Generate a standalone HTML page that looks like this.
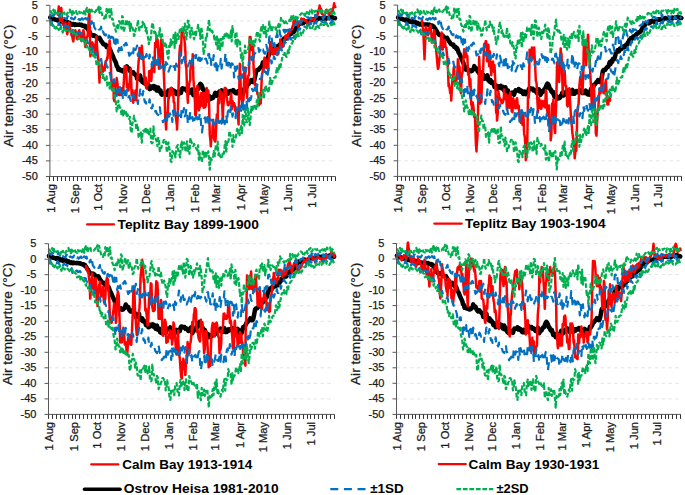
<!DOCTYPE html>
<html><head><meta charset="utf-8"><style>
html,body{margin:0;padding:0;background:#fff;overflow:hidden;width:685px;height:495px;}
svg{display:block;}
text{font-family:"Liberation Sans", sans-serif;}
.g{stroke:#e3e3e3;stroke-width:1;stroke-dasharray:3.4 3.4;fill:none;}
.ax{stroke:#595959;stroke-width:1;fill:none;}
.tk{stroke:#333;stroke-width:1;fill:none;}
.tl{font-size:11px;text-anchor:end;fill:#1a1a1a;stroke:#1a1a1a;stroke-width:0.25px;}
.ml{font-size:11.2px;text-anchor:end;fill:#1a1a1a;stroke:#1a1a1a;stroke-width:0.25px;}
.yt{font-size:13.65px;text-anchor:middle;fill:#1a1a1a;stroke:#1a1a1a;stroke-width:0.25px;}
.lg{font-size:13.4px;font-weight:bold;fill:#000;}
.s2{stroke:#00b050;stroke-width:2.2;fill:none;stroke-dasharray:4.7 1.8;stroke-linejoin:round;}
.s1{stroke:#0070c0;stroke-width:2.2;fill:none;stroke-dasharray:8 6;stroke-linejoin:round;}
.m{stroke:#000;stroke-width:4.5;fill:none;stroke-linejoin:round;stroke-linecap:round;}
.r{stroke:#ff0000;stroke-width:2.5;fill:none;stroke-linejoin:round;stroke-linecap:round;}
.rl{stroke:#ff0000;stroke-width:2.2;stroke-linecap:round;}
.bl{stroke:#000;stroke-width:3.6;stroke-linecap:round;}
.b1{stroke:#0070c0;stroke-width:2.2;stroke-dasharray:8 5.6;}
.b2{stroke:#00b050;stroke-width:2.2;stroke-dasharray:4.7 1.8;}
</style></head>
<body><svg width="685" height="495" viewBox="0 0 685 495">
<line x1="49.9" y1="5.3" x2="335.4" y2="5.3" class="g"/>
<line x1="49.9" y1="20.9" x2="335.4" y2="20.9" class="g"/>
<line x1="49.9" y1="36.4" x2="335.4" y2="36.4" class="g"/>
<line x1="49.9" y1="52" x2="335.4" y2="52" class="g"/>
<line x1="49.9" y1="67.6" x2="335.4" y2="67.6" class="g"/>
<line x1="49.9" y1="83.1" x2="335.4" y2="83.1" class="g"/>
<line x1="49.9" y1="98.7" x2="335.4" y2="98.7" class="g"/>
<line x1="49.9" y1="114.2" x2="335.4" y2="114.2" class="g"/>
<line x1="49.9" y1="129.8" x2="335.4" y2="129.8" class="g"/>
<line x1="49.9" y1="145.4" x2="335.4" y2="145.4" class="g"/>
<line x1="49.9" y1="160.9" x2="335.4" y2="160.9" class="g"/>
<polyline class="m" points="50.2,17.6 51,17.6 51.8,18.3 52.6,19.1 53.4,18.8 54.2,19 54.9,19.5 55.7,19.8 56.5,19.9 57.3,20.4 58.1,19.7 58.8,19.7 59.6,20.4 60.4,20.3 61.2,21.7 62,21.8 62.8,22 63.5,21.1 64.3,22.4 65.1,21.6 65.9,21.6 66.7,22 67.5,22 68.2,23 69,23.7 69.8,23 70.6,24.1 71.4,24.1 72.1,24.7 72.9,24 73.7,24.2 74.5,24.9 75.3,24.3 76.1,24.7 76.8,24.8 77.6,24.7 78.4,24.8 79.2,24.5 80,24.7 80.8,25.1 81.5,24.8 82.3,25.7 83.1,25.7 83.9,25.9 84.7,25.8 85.4,27.1 86.2,26.7 87,28.1 87.8,29.1 88.6,30.5 89.4,31.4 90.1,33 90.9,34.4 91.7,35.1 92.5,35.3 93.3,35.8 94.1,35.2 94.8,35.5 95.6,36.3 96.4,37 97.2,38 98,38.2 98.7,38.2 99.5,37.9 100.3,39.3 101.1,41 101.9,41.8 102.7,43.1 103.4,44.1 104.2,44.4 105,45 105.8,44.7 106.6,46.9 107.4,46.7 108.1,47 108.9,48.9 109.7,48.6 110.5,50.5 111.3,53 112,54 112.8,55.9 113.6,57.9 114.4,59.7 115.2,61.3 116,63 116.7,66.1 117.5,66.7 118.3,69.7 119.1,69 119.9,69.5 120.7,70.5 121.4,70.6 122.2,70.2 123,71.5 123.8,71.4 124.6,71.1 125.3,70.1 126.1,69.2 126.9,66.3 127.7,68.9 128.5,68.2 129.3,68.6 130,70.8 130.8,72.2 131.6,73.2 132.4,72.5 133.2,72.2 134,73.6 134.7,74.2 135.5,75.3 136.3,75.1 137.1,78.9 137.9,76.8 138.6,77.1 139.4,78.8 140.2,75.5 141,80.4 141.8,81 142.6,82 143.3,80.2 144.1,83.1 144.9,82.2 145.7,83.1 146.5,84.5 147.2,87.1 148,87.2 148.8,85.4 149.6,89.1 150.4,88.8 151.2,88 151.9,86.6 152.7,86.8 153.5,86.1 154.3,88.4 155.1,86.6 155.9,87.6 156.6,90.5 157.4,87.6 158.2,87.5 159,91.4 159.8,91.3 160.5,90.5 161.3,94.1 162.1,94.7 162.9,93.9 163.7,93.2 164.5,93.7 165.2,92.9 166,93.4 166.8,94.9 167.6,92.4 168.4,90.5 169.2,90.8 169.9,90.3 170.7,90.7 171.5,89.2 172.3,91.5 173.1,90.2 173.8,91.8 174.6,91.1 175.4,92.1 176.2,94 177,92.8 177.8,91.8 178.5,94.3 179.3,93.4 180.1,93.1 180.9,93.1 181.7,89.4 182.5,88.3 183.2,88.4 184,88.8 184.8,89.1 185.6,88.9 186.4,90.7 187.1,89.9 187.9,90.7 188.7,91.3 189.5,92.8 190.3,91.7 191.1,91.6 191.8,89.5 192.6,91.9 193.4,95.1 194.2,93.2 195,91.4 195.8,92.1 196.5,90.5 197.3,89.3 198.1,89.1 198.9,86.8 199.7,84.9 200.4,83.8 201.2,84.6 202,86.1 202.8,89.1 203.6,89.2 204.4,91.5 205.1,92.7 205.9,91.8 206.7,94.6 207.5,96.9 208.3,96.5 209.1,96.1 209.8,99.2 210.6,97.5 211.4,97.5 212.2,98.4 213,97.9 213.7,96.1 214.5,95.4 215.3,92.9 216.1,93.5 216.9,95.6 217.7,94.9 218.4,93.2 219.2,91.7 220,93 220.8,92.6 221.6,90.4 222.4,92.1 223.1,92.4 223.9,93.8 224.7,93 225.5,90 226.3,93.8 227,92.2 227.8,93.8 228.6,92.1 229.4,91.3 230.2,92.4 231,91.1 231.7,91 232.5,91.2 233.3,90 234.1,91.2 234.9,92.6 235.7,93.1 236.4,93.3 237.2,91.9 238,93.1 238.8,90.8 239.6,91.6 240.3,94.3 241.1,94.6 241.9,92.1 242.7,95 243.5,91.9 244.3,88.9 245,89.7 245.8,88.2 246.6,87 247.4,84.8 248.2,84.5 249,83.4 249.7,82.3 250.5,82 251.3,80.1 252.1,81.7 252.9,82.1 253.6,82 254.4,80.1 255.2,76.1 256,71.4 256.8,70.3 257.6,70.2 258.3,70 259.1,68.9 259.9,68 260.7,67.2 261.5,67 262.3,64.8 263,62.2 263.8,64.3 264.6,61.2 265.4,62 266.2,59 266.9,59 267.7,59.2 268.5,55.8 269.3,52.7 270.1,52.6 270.9,50.3 271.6,50.4 272.4,51.4 273.2,48.7 274,48.8 274.8,49.1 275.6,46.9 276.3,47.1 277.1,47.6 277.9,46.2 278.7,47 279.5,45 280.2,45.1 281,42.9 281.8,42.9 282.6,40.2 283.4,40.1 284.2,38.5 284.9,39.1 285.7,38.3 286.5,36.9 287.3,38.1 288.1,36.9 288.9,35.1 289.6,34.8 290.4,33.8 291.2,33.7 292,32.5 292.8,32.4 293.5,32.1 294.3,31.3 295.1,29.6 295.9,28.3 296.7,27 297.5,26.4 298.2,25.4 299,24.1 299.8,23.2 300.6,23.2 301.4,23.1 302.2,23.5 302.9,21.8 303.7,22.7 304.5,21.4 305.3,21.2 306.1,21.6 306.8,21.9 307.6,21.5 308.4,21.9 309.2,21.1 310,20.9 310.8,20.4 311.5,19.9 312.3,19.4 313.1,20 313.9,19.4 314.7,20 315.5,19.9 316.2,19.6 317,19.6 317.8,18.6 318.6,18.4 319.4,18.1 320.1,18.6 320.9,18.4 321.7,18.7 322.5,18.9 323.3,18.1 324.1,18.1 324.8,18.5 325.6,17.8 326.4,18.6 327.2,17.9 328,17.9 328.8,17.8 329.5,17.9 330.3,17.1 331.1,17.1 331.9,16.9 332.7,17.5 333.4,18.2 334.2,17.9 335,18.2"/>
<polyline class="r" points="57.7,14.6 58.1,13.3 58.8,6.6 59,8.1 59.6,14.2 60,20.9 60.4,14.9 61.2,8.8 61.3,8.1 62,17.6 62.5,23.4 62.8,24.5 63.5,24.8 64.2,26.2 64.3,28.2 65.1,25.9 65.5,22.4 65.9,26.7 66.7,29 67.2,34.2 67.5,32.6 68.2,28.9 69,23 69.2,22.4 69.8,27.2 70.6,30.6 71.2,32.4 71.4,35 72.1,35.7 72.9,39.9 73.3,41.4 73.7,37.5 74.5,33.6 75.3,32.1 75.3,30.2 76.1,33 76.8,38.4 77.3,39.2 77.6,37.4 78.4,33.3 79.2,31.2 79.3,30.2 80,35.2 80.8,37.3 81.3,40.5 81.5,41 82.3,35.3 83.1,32.6 83.4,30.2 83.9,33.2 84.7,41.5 85.4,46.4 85.4,46.9 86.2,39.8 87,36.7 87.4,36.4 87.8,34.1 88.6,20.3 89.4,9.7 89.4,12.1 90.1,44 90.4,56.3 90.9,53.3 91.7,43.9 92.4,42.3 92.5,43.2 93.3,45 94.1,46 94.5,50.4 94.8,52.9 95.6,44 96.4,37.4 96.5,36.4 97.2,48.8 98,57.3 98.5,60.4 98.7,65.3 99.5,82.5 99.5,79.6 100.3,73.1 101.1,69.3 101.5,64.4 101.9,65.3 102.7,72 103.4,67.7 104.2,69.2 104.6,70.4 105,65.4 105.8,61.1 106.6,60.4 107.4,57 107.6,58.2 108.1,47.8 108.9,48.8 109.6,40.5 109.7,40.5 110.5,59.6 111.3,76.9 111.6,84.7 112,87.4 112.8,89.2 113.6,82.2 113.7,98.7 114.4,101.2 115.2,85.8 116,84.3 116.7,80.6 116.7,78.1 117.5,83.8 118.3,94.8 119.1,94.9 119.7,92.5 119.9,92 120.7,94.9 121.4,94.7 122.2,88.1 122.4,90.6 123,93.1 123.8,82.7 124.6,66.3 124.8,68.8 125.3,66.3 126.1,66.5 126.9,87 127.7,84.2 128.5,90.6 128.5,88.1 129.3,87.5 130,77.1 130.8,68.8 130.9,71.3 131.6,94.9 132.4,89.9 133.2,102.7 133.3,100.2 134,93.8 134.7,99.8 135.5,90.4 136.3,100.3 137,85.9 137.1,83.1 137.9,71.9 138.6,61.9 139.4,54.2 139.4,48 140.2,55 141,48.7 141.8,53.2 141.8,45.8 142.6,56.6 143.3,58 144.1,73.4 144.2,73.5 144.9,84.4 145.7,77.6 146.5,88.4 146.7,85.9 147.2,86 148,83 148.8,82.4 149.1,71.3 149.6,79.1 150.4,70.7 151.2,80.9 151.5,78.4 151.9,66.6 152.7,65 153.5,62.6 154.3,72.1 155.1,43.1 155.2,44.5 155.9,47 156.6,37 157.4,40.2 157.6,39.5 158.2,50.5 159,68.8 159.8,66.9 160,66.3 160.5,50.4 161.3,39.5 162.1,48.1 162.4,42 162.9,62.1 163.7,70.8 164.5,89.3 165.2,116.5 166,127.2 166.1,129.5 166.8,113 167.6,117.1 168.4,97.7 168.5,100.2 169.2,94.6 169.9,88.8 170.7,95.3 170.9,88.1 171.5,87.9 172.3,91.2 173.1,91.7 173.8,102.5 174.5,102.7 174.6,110.6 175.4,113.6 176.2,119.5 177,126 177,129.5 177.8,113.6 178.5,88.9 179.3,59.5 179.4,54.2 180.1,45.5 180.9,55.6 181.7,30.1 182.5,35.4 183,29.9 183.2,35.6 184,36.1 184.8,42.8 185.5,54.2 185.6,63.5 186.4,68.7 187.1,90.2 187.9,102.7 187.9,97.9 188.7,88.5 189.5,82.3 190.3,80.1 190.3,71.3 191.1,62.7 191.8,61.9 192.6,58.4 192.7,54.2 193.4,79 194.2,89.7 195,102.7 195.2,114.9 195.8,115.5 196.5,105.5 197.3,91.4 197.4,85.9 198.1,95.5 198.9,110.2 199.7,106.2 199.8,107.7 200.4,97.8 201.2,93.1 202,105.4 202.3,95.6 202.8,93.1 203.6,107.7 204.4,93.1 205.1,107.4 205.9,105.2 205.9,101.9 206.7,88.1 207.5,93.9 208.3,102.2 208.3,90.6 209.1,105.5 209.8,134.9 210.6,142.2 210.8,146.3 211.4,137.9 212.2,137.5 213,120.6 213.2,119.8 213.7,134.2 214.5,140.5 215.3,141.6 215.6,139.1 216.1,128.2 216.9,114.4 217.7,121.8 218,102.7 218.4,98.3 219.2,103.2 220,90.6 220.5,93.1 220.8,97.2 221.6,92.7 222.4,109.9 222.9,122 223.1,107.8 223.9,100.3 224.7,88.1 225.3,90.6 225.5,88.1 226.3,95.5 227,98.6 227.8,105.2 228.6,105.2 228.9,102.7 229.4,102.3 230.2,103.3 231,93.6 231.4,95.6 231.7,109.4 232.5,101 233.3,106.2 234.1,103.3 234.9,106 235,109.9 235.7,111.4 236.4,109.1 237.2,114.2 238,116 238.6,124.5 238.8,110.1 239.6,73 239.8,63.8 240.3,73.8 241.1,99.1 241.9,95.9 242.3,107.7 242.7,101.3 243.5,99.9 244.3,72.6 244.7,68.8 245,67.5 245.8,86.9 246.6,79.9 247.1,97.7 247.4,84.9 248.2,76 249,74.8 249.5,51.7 249.7,37 250.5,37 250.8,39.5 251.3,50.1 252.1,43 252.9,44.8 253.2,51.7 253.6,68.1 254.4,78.4 254.4,82.6 255.2,85.5 256,84.4 256.8,84.9 256.8,90.6 257.6,94.4 258.3,94.7 259.1,105.2 259.2,102.7 259.9,97 260.7,103.4 261,98.4 261.5,82.9 262,76.3 262.3,73.6 263,68.9 263.8,68.7 264,60.1 264.6,57.6 265.4,58.7 266,64.1 266.2,67.8 266.9,61.6 267.7,64.1 268.1,70.4 268.5,62.4 269.3,50.1 270.1,46.8 270.1,42 270.9,42.4 271.6,47.9 272.1,54.2 272.4,48.9 273.2,54.4 274,52.5 274.8,48.8 275.2,50.1 275.6,54 276.3,52.5 277.1,47.9 277.9,51.7 278.2,54.2 278.7,49.9 279.5,48.9 280.2,42 280.2,39.5 281,42.7 281.8,47.2 282.2,46.1 282.6,46.9 283.4,46.1 284.2,39.7 284.9,40.3 285.3,36.1 285.7,38.6 286.5,35.2 287.3,37.6 288.1,34.7 288.3,33.9 288.9,30.9 289.6,32.8 290.4,30.8 291.2,30 291.3,29.9 292,28.4 292.8,25.7 293.3,25.8 293.5,21.3 294.3,22.7 295.1,22.2 295.4,19.9 295.9,22.9 296.7,22.4 297.5,23.1 298.2,26.4 298.4,24 299,23.5 299.8,21.5 300.6,22.7 301.4,18.5 301.4,19.9 302.2,20 302.9,19.3 303.4,19 303.7,18.8 304.5,20.7 305.3,20.1 306.1,20.7 306.5,21.8 306.8,22.1 307.6,25.2 308.4,22.6 308.5,24.9 309.2,23.6 310,22.9 310.8,20.1 311.5,19 311.5,19.1 312.3,18.8 313.1,19.4 313.9,20.9 314.5,19.9 314.7,18.7 315.5,15.9 316.2,16.9 317,14.8 317.6,14.9 317.8,12.3 318.6,10.4 319.4,7.4 319.6,5.6 320.1,8.1 320.9,8.9 321.6,11.8 321.7,13.4 322.5,14.5 323.3,14.8 323.6,15.9 324.1,17.4 324.8,14.3 325.6,11.5 326.4,9.7 326.7,10.9 327.2,11.8 328,12.2 328.8,14.3 329.5,13 329.7,13.7 330.3,13.2 331.1,12.4 331.9,11.4 332.7,10.9 332.7,9.7 333.4,7.1 334.2,3.3 334.3,4.7 335,6.9 335.4,6.9"/>
<polyline class="s1" points="50.2,14.1 51,15.7 51.8,15.8 52.6,16.4 53.4,14.7 54.2,15.2 54.9,13.8 55.7,15.4 56.5,16.7 57.3,16.2 58.1,16.6 58.8,16.9 59.6,14.2 60.4,14.9 61.2,17.4 62,14.5 62.8,16.8 63.5,18.8 64.3,17.9 65.1,18.3 65.9,18.6 66.7,19.3 67.5,16.8 68.2,16.5 69,19.5 69.8,16.8 70.6,17.2 71.4,18.7 72.1,18.3 72.9,18.7 73.7,19.3 74.5,18.9 75.3,17.2 76.1,20.5 76.8,18.6 77.6,18.5 78.4,19.3 79.2,19 80,20.2 80.8,19.6 81.5,18.6 82.3,18.3 83.1,19.6 83.9,15.5 84.7,18.7 85.4,18 86.2,18.7 87,19.6 87.8,18.2 88.6,21.5 89.4,19.4 90.1,20.1 90.9,24.1 91.7,21.4 92.5,25.4 93.3,21.6 94.1,26.9 94.8,28 95.6,29.4 96.4,27.8 97.2,26.4 98,27.9 98.7,29.4 99.5,29.5 100.3,29.5 101.1,26.7 101.9,33.6 102.7,31.2 103.4,32.4 104.2,34.5 105,35.1 105.8,35.4 106.6,32.5 107.4,35.8 108.1,37.7 108.9,35.5 109.7,36.8 110.5,38.2 111.3,36.7 112,40.7 112.8,37.2 113.6,39 114.4,43.2 115.2,47.3 116,39.3 116.7,45.5 117.5,39.6 118.3,51.7 119.1,47.8 119.9,53.4 120.7,50.6 121.4,47.1 122.2,51.3 123,46.9 123.8,45.2 124.6,45.5 125.3,43.7 126.1,42.8 126.9,44.8 127.7,48.2 128.5,51.7 129.3,55.7 130,54.9 130.8,54.2 131.6,49 132.4,51.6 133.2,53.3 134,45.1 134.7,49.9 135.5,49.9 136.3,48.1 137.1,45.6 137.9,55.8 138.6,52.6 139.4,49.6 140.2,54.2 141,58.6 141.8,59.2 142.6,52.6 143.3,59.2 144.1,53.9 144.9,52.8 145.7,57.2 146.5,54 147.2,57.6 148,58.5 148.8,60.9 149.6,54.5 150.4,60.9 151.2,63 151.9,66.2 152.7,55.8 153.5,60 154.3,63.4 155.1,65.3 155.9,67.9 156.6,60.4 157.4,59.9 158.2,66.5 159,57.9 159.8,60.6 160.5,68.3 161.3,67.5 162.1,67.3 162.9,64.9 163.7,65.6 164.5,70.9 165.2,59.6 166,65.1 166.8,63.3 167.6,65.1 168.4,71.7 169.2,69.7 169.9,67.5 170.7,65.9 171.5,67.6 172.3,67.8 173.1,64.3 173.8,67 174.6,66.1 175.4,71.7 176.2,63.5 177,66.6 177.8,63.7 178.5,60.8 179.3,58.8 180.1,52.5 180.9,58.1 181.7,63.3 182.5,57.2 183.2,60.1 184,57.1 184.8,61.7 185.6,61.7 186.4,60.6 187.1,61 187.9,66.3 188.7,63.5 189.5,62.7 190.3,59 191.1,64.6 191.8,64.2 192.6,59.6 193.4,58.4 194.2,53.2 195,56.1 195.8,58.2 196.5,53.4 197.3,53 198.1,60.5 198.9,57.6 199.7,63.7 200.4,58.2 201.2,60.2 202,58.6 202.8,61.2 203.6,61.4 204.4,61.7 205.1,58.8 205.9,58.7 206.7,60.9 207.5,63.5 208.3,54.3 209.1,53.9 209.8,61.3 210.6,57.9 211.4,65.9 212.2,66 213,61.2 213.7,55.2 214.5,65.6 215.3,66.6 216.1,59.4 216.9,74 217.7,65.5 218.4,66.6 219.2,69.4 220,67.6 220.8,58.8 221.6,68.6 222.4,62.4 223.1,60.7 223.9,61.3 224.7,62.6 225.5,53 226.3,60.2 227,69.2 227.8,66.4 228.6,62.6 229.4,63.2 230.2,70.2 231,64.8 231.7,63.4 232.5,63.7 233.3,65.9 234.1,77.4 234.9,66.7 235.7,74.4 236.4,68.4 237.2,66.2 238,74.8 238.8,79.4 239.6,72.5 240.3,76.9 241.1,77.5 241.9,78 242.7,65.4 243.5,71.4 244.3,73.7 245,69.7 245.8,71.9 246.6,66.1 247.4,67.2 248.2,68.6 249,61.4 249.7,65.1 250.5,59.2 251.3,56.6 252.1,62.1 252.9,62.6 253.6,58 254.4,52.7 255.2,53.3 256,50.7 256.8,50.2 257.6,48.5 258.3,47.1 259.1,51.8 259.9,50.7 260.7,48.9 261.5,51.9 262.3,49.8 263,49.5 263.8,52.2 264.6,53.6 265.4,53.6 266.2,44.9 266.9,47.2 267.7,51.1 268.5,47.3 269.3,36.9 270.1,36.4 270.9,39.8 271.6,37.4 272.4,45.4 273.2,42.4 274,40.9 274.8,47.1 275.6,42.6 276.3,36.5 277.1,33.8 277.9,36.8 278.7,34 279.5,30.4 280.2,34.7 281,36.6 281.8,33.6 282.6,34.1 283.4,29.9 284.2,31.5 284.9,32.7 285.7,26.3 286.5,31.5 287.3,29.8 288.1,29.8 288.9,29.7 289.6,30.2 290.4,28.4 291.2,28 292,29 292.8,26.3 293.5,25.8 294.3,25.4 295.1,24.5 295.9,24.9 296.7,21.7 297.5,20.8 298.2,24.5 299,21.6 299.8,22.2 300.6,23.7 301.4,20.7 302.2,21.4 302.9,20.6 303.7,20.4 304.5,18.1 305.3,17.6 306.1,18.1 306.8,17.1 307.6,17.7 308.4,17.4 309.2,18.6 310,18 310.8,18.7 311.5,17 312.3,15.8 313.1,15.6 313.9,14.3 314.7,13.1 315.5,17.7 316.2,15.6 317,16.4 317.8,16.3 318.6,17.1 319.4,15.3 320.1,15.5 320.9,16.1 321.7,16.2 322.5,17.1 323.3,19.3 324.1,15.9 324.8,17.4 325.6,17.9 326.4,16.3 327.2,17.3 328,19.1 328.8,16.2 329.5,19.6 330.3,18.4 331.1,18.1 331.9,16.7 332.7,16.5 333.4,17.2 334.2,18 335,17.2"/>
<polyline class="s1" points="50.2,19.6 51,21 51.8,22.9 52.6,25.7 53.4,23.7 54.2,23.2 54.9,23.8 55.7,23.2 56.5,24.3 57.3,24.3 58.1,25 58.8,22.8 59.6,24.4 60.4,25.5 61.2,26.6 62,25.5 62.8,23.9 63.5,25.4 64.3,27.2 65.1,25.3 65.9,25.7 66.7,26.4 67.5,26.8 68.2,26.7 69,28.1 69.8,28.7 70.6,31.3 71.4,29.6 72.1,31.5 72.9,29.9 73.7,34.5 74.5,31.8 75.3,31.9 76.1,33.6 76.8,32.8 77.6,32.3 78.4,32.3 79.2,33.6 80,33.5 80.8,32.7 81.5,33.1 82.3,35 83.1,35.5 83.9,36 84.7,35.7 85.4,39.3 86.2,40.8 87,40.1 87.8,43 88.6,43.6 89.4,44 90.1,44.7 90.9,48.6 91.7,46.9 92.5,52.5 93.3,49.5 94.1,54.2 94.8,54.9 95.6,52.6 96.4,55.8 97.2,57.4 98,57.5 98.7,56.7 99.5,58.9 100.3,60 101.1,58.9 101.9,63.8 102.7,64.4 103.4,65.6 104.2,62.2 105,62.6 105.8,61.9 106.6,65.7 107.4,67.6 108.1,67.4 108.9,73.4 109.7,72.9 110.5,75.6 111.3,81.9 112,82.2 112.8,84 113.6,79.5 114.4,79.3 115.2,88.5 116,89.7 116.7,98.2 117.5,89.3 118.3,89.4 119.1,93.3 119.9,87.1 120.7,97.1 121.4,93.2 122.2,92.9 123,98.9 123.8,91.5 124.6,90.7 125.3,99.1 126.1,97.8 126.9,89.7 127.7,92.5 128.5,97.3 129.3,95.8 130,98.4 130.8,100.9 131.6,98.5 132.4,100.2 133.2,94.6 134,95.8 134.7,98.6 135.5,97.7 136.3,97 137.1,98.5 137.9,103.9 138.6,94.2 139.4,95.8 140.2,89.5 141,95.4 141.8,94.1 142.6,95.3 143.3,91 144.1,98.6 144.9,102.3 145.7,101.6 146.5,104.9 147.2,102.8 148,104 148.8,104.1 149.6,99.3 150.4,109.1 151.2,107.8 151.9,108.4 152.7,104.7 153.5,112 154.3,111.7 155.1,111.4 155.9,110.8 156.6,113.3 157.4,114.3 158.2,115 159,109.8 159.8,107.2 160.5,113 161.3,115.3 162.1,115.9 162.9,122.2 163.7,120.4 164.5,120.6 165.2,118.6 166,119.4 166.8,123.1 167.6,113.4 168.4,110.3 169.2,116.6 169.9,113.4 170.7,113.9 171.5,112.5 172.3,121.8 173.1,110.6 173.8,117.9 174.6,110.2 175.4,113.2 176.2,113.9 177,112.8 177.8,109.1 178.5,116.4 179.3,115.3 180.1,116 180.9,120 181.7,107.5 182.5,110.2 183.2,112.4 184,108 184.8,116.3 185.6,114.7 186.4,109.1 187.1,112.3 187.9,124.2 188.7,123.8 189.5,119.1 190.3,111.3 191.1,117.8 191.8,118.3 192.6,117.2 193.4,124.3 194.2,120.9 195,118.2 195.8,118 196.5,116.8 197.3,119.4 198.1,114.9 198.9,119.1 199.7,114.2 200.4,113 201.2,125.9 202,132.4 202.8,126 203.6,122.3 204.4,118.6 205.1,117.4 205.9,123.9 206.7,124.2 207.5,117.1 208.3,126.3 209.1,118.3 209.8,123.2 210.6,119.5 211.4,120.1 212.2,120.6 213,121.3 213.7,128.7 214.5,123.7 215.3,123.6 216.1,120.7 216.9,115.8 217.7,120.7 218.4,122.5 219.2,122.9 220,121.5 220.8,117.6 221.6,123.6 222.4,116.4 223.1,119.6 223.9,120.9 224.7,124.1 225.5,117.2 226.3,114.6 227,123.3 227.8,112 228.6,110.3 229.4,114.9 230.2,113.4 231,105.9 231.7,108.8 232.5,116.6 233.3,113.3 234.1,113.2 234.9,111.9 235.7,118.2 236.4,106.3 237.2,111 238,107.6 238.8,108.2 239.6,104.1 240.3,108.6 241.1,110.9 241.9,106.3 242.7,103.2 243.5,109.6 244.3,103.3 245,107.5 245.8,110.4 246.6,101.9 247.4,108.6 248.2,98.8 249,101.4 249.7,95.3 250.5,100 251.3,97.1 252.1,88.9 252.9,91 253.6,90.1 254.4,90.3 255.2,85.3 256,90.6 256.8,88.1 257.6,82.9 258.3,83.8 259.1,82 259.9,78.9 260.7,78.8 261.5,78.5 262.3,71 263,72 263.8,69.6 264.6,71.9 265.4,71.7 266.2,73.5 266.9,69.5 267.7,74.7 268.5,69.8 269.3,64.9 270.1,60.7 270.9,60.4 271.6,63.4 272.4,58.2 273.2,60.8 274,56.5 274.8,59.2 275.6,56.8 276.3,53 277.1,55.2 277.9,50.9 278.7,54.8 279.5,54.8 280.2,49.6 281,47.2 281.8,50.5 282.6,46.9 283.4,48.1 284.2,44 284.9,41.2 285.7,43 286.5,43.9 287.3,44.8 288.1,40.3 288.9,38.3 289.6,37.5 290.4,37.4 291.2,39.6 292,34.6 292.8,37.5 293.5,37.6 294.3,35.7 295.1,38.9 295.9,35.2 296.7,34.2 297.5,31.9 298.2,29.1 299,28.4 299.8,29.7 300.6,27.5 301.4,26.6 302.2,26.7 302.9,28.3 303.7,28.8 304.5,26.5 305.3,26.8 306.1,27 306.8,28.3 307.6,23.7 308.4,27.4 309.2,25 310,22 310.8,24.1 311.5,23.3 312.3,24.4 313.1,21.3 313.9,24 314.7,22.3 315.5,22.4 316.2,23.5 317,21.1 317.8,23.3 318.6,22.2 319.4,21.4 320.1,22.1 320.9,21.4 321.7,21.1 322.5,22.3 323.3,22.5 324.1,22.4 324.8,22.5 325.6,21.7 326.4,23.3 327.2,22.8 328,23.2 328.8,23.7 329.5,21.6 330.3,23.6 331.1,22.3 331.9,20.4 332.7,23 333.4,21.5 334.2,22.8 335,21.2"/>
<polyline class="s2" points="50.2,10.3 51,11.8 51.8,13.1 52.6,13.5 53.4,9.7 54.2,11.8 54.9,9.4 55.7,14.6 56.5,13.6 57.3,13 58.1,13.8 58.8,12.8 59.6,13 60.4,14 61.2,16.2 62,15 62.8,11.6 63.5,13.2 64.3,12.5 65.1,15.3 65.9,14.6 66.7,15.2 67.5,12.8 68.2,12.6 69,11.5 69.8,9.6 70.6,13.5 71.4,11.6 72.1,14.8 72.9,11.2 73.7,13.2 74.5,12.8 75.3,12.9 76.1,11.1 76.8,13.6 77.6,14 78.4,14.4 79.2,11.7 80,13 80.8,12.6 81.5,12.2 82.3,11.5 83.1,13.7 83.9,11.6 84.7,9.6 85.4,14.5 86.2,9.5 87,7.8 87.8,12.1 88.6,9.5 89.4,12.7 90.1,9.2 90.9,10.6 91.7,9.7 92.5,12.7 93.3,12.7 94.1,11.9 94.8,12.2 95.6,11.5 96.4,10 97.2,11.5 98,8.7 98.7,6.8 99.5,12.8 100.3,7.5 101.1,10.8 101.9,13.8 102.7,17.3 103.4,17.7 104.2,18.7 105,15.5 105.8,17.8 106.6,8.8 107.4,12.9 108.1,8.3 108.9,8.2 109.7,17.3 110.5,11.9 111.3,9 112,19.5 112.8,19 113.6,24.9 114.4,25.8 115.2,29 116,31.8 116.7,26.9 117.5,25.1 118.3,28.2 119.1,21.2 119.9,22.7 120.7,23.7 121.4,28.7 122.2,16 123,17.5 123.8,32.3 124.6,28.2 125.3,26.3 126.1,20.9 126.9,19.8 127.7,26.2 128.5,23.6 129.3,21.8 130,31 130.8,23.7 131.6,28.6 132.4,27.6 133.2,29.9 134,35.8 134.7,35.2 135.5,29.9 136.3,27.8 137.1,27.3 137.9,20 138.6,26.3 139.4,30.5 140.2,27.2 141,26.9 141.8,27.1 142.6,21.8 143.3,25.1 144.1,23.7 144.9,26.5 145.7,31.1 146.5,27.8 147.2,36.2 148,36.9 148.8,44.2 149.6,39.5 150.4,39.8 151.2,34.3 151.9,25.7 152.7,22.8 153.5,27.7 154.3,33 155.1,30.5 155.9,34.3 156.6,38.5 157.4,35.8 158.2,35.9 159,36.8 159.8,28 160.5,37 161.3,38.1 162.1,34.4 162.9,41.9 163.7,45.4 164.5,45.9 165.2,42.2 166,45.1 166.8,48.8 167.6,55.8 168.4,58.6 169.2,45.6 169.9,48.2 170.7,39.3 171.5,45.1 172.3,41.8 173.1,40.4 173.8,33.4 174.6,48 175.4,32.7 176.2,42.8 177,37.3 177.8,34.2 178.5,39 179.3,33.1 180.1,27.7 180.9,28.5 181.7,30.9 182.5,27.4 183.2,28 184,35.4 184.8,23.6 185.6,28.9 186.4,39.4 187.1,32.4 187.9,20.6 188.7,21.2 189.5,27.8 190.3,37.3 191.1,32.1 191.8,27.9 192.6,32.5 193.4,37 194.2,39.4 195,32 195.8,35.2 196.5,31.6 197.3,30.2 198.1,24.9 198.9,30.8 199.7,30 200.4,39 201.2,27.4 202,31.3 202.8,39.7 203.6,54 204.4,50 205.1,48.3 205.9,36.8 206.7,37.8 207.5,30.4 208.3,24.8 209.1,19.8 209.8,30.3 210.6,29.9 211.4,33 212.2,30.8 213,33 213.7,33.5 214.5,40.8 215.3,37.8 216.1,44.4 216.9,35 217.7,48.9 218.4,37.7 219.2,39.1 220,49.8 220.8,38.8 221.6,39.1 222.4,47.4 223.1,36.9 223.9,38.2 224.7,34.3 225.5,38.1 226.3,34 227,32.2 227.8,35.6 228.6,37.9 229.4,35.4 230.2,37.6 231,30.5 231.7,41.4 232.5,26 233.3,33.9 234.1,34 234.9,34.2 235.7,45.1 236.4,31.5 237.2,46.5 238,39.9 238.8,41.7 239.6,39.7 240.3,48.4 241.1,57.9 241.9,53.2 242.7,65.1 243.5,55.6 244.3,55.5 245,45.6 245.8,52.9 246.6,52.3 247.4,51.2 248.2,48.8 249,44.9 249.7,37.8 250.5,44.5 251.3,39.4 252.1,45.9 252.9,41.6 253.6,40.8 254.4,46.4 255.2,42.1 256,37.6 256.8,33.2 257.6,31.3 258.3,35.3 259.1,38.9 259.9,41.5 260.7,30.6 261.5,27.1 262.3,30.5 263,25 263.8,33.3 264.6,33.5 265.4,26.8 266.2,37.1 266.9,31.2 267.7,31.1 268.5,29.8 269.3,21.5 270.1,28.7 270.9,26.8 271.6,31.7 272.4,27.8 273.2,27.1 274,28.3 274.8,28.7 275.6,27.4 276.3,30 277.1,33.2 277.9,26 278.7,23.9 279.5,27.1 280.2,25.2 281,17.9 281.8,20.2 282.6,20.4 283.4,21.7 284.2,22.9 284.9,24.3 285.7,21.4 286.5,22.9 287.3,23.3 288.1,22.1 288.9,22 289.6,19.5 290.4,22.6 291.2,15.4 292,21 292.8,19.1 293.5,15.9 294.3,18.7 295.1,17.8 295.9,16.8 296.7,20.1 297.5,17.3 298.2,17.7 299,16.4 299.8,15 300.6,14.6 301.4,13.3 302.2,13.4 302.9,14.1 303.7,15.6 304.5,13.8 305.3,16.2 306.1,14.5 306.8,12 307.6,12.6 308.4,15.2 309.2,13.5 310,10.7 310.8,10.6 311.5,9.6 312.3,13.4 313.1,12.6 313.9,11 314.7,12 315.5,10.9 316.2,11.1 317,10.9 317.8,11.6 318.6,10.6 319.4,10.4 320.1,11.5 320.9,13.7 321.7,10.2 322.5,11.5 323.3,11 324.1,11.1 324.8,13.7 325.6,10.7 326.4,12.5 327.2,13.1 328,9.1 328.8,10.9 329.5,10 330.3,9.5 331.1,9.1 331.9,14.4 332.7,13 333.4,10.8 334.2,12.6 335,14.7"/>
<polyline class="s2" points="50.2,21.3 51,25 51.8,23.6 52.6,24.7 53.4,25.7 54.2,26.5 54.9,29.8 55.7,28.4 56.5,27 57.3,30.2 58.1,29.2 58.8,30 59.6,28.5 60.4,30.6 61.2,27.1 62,30.3 62.8,32.5 63.5,28.3 64.3,29.7 65.1,30.4 65.9,30.3 66.7,31.6 67.5,31.5 68.2,30.5 69,30.6 69.8,31.1 70.6,32.5 71.4,33.7 72.1,33.3 72.9,31.6 73.7,31.4 74.5,34.5 75.3,35.5 76.1,33.8 76.8,35.2 77.6,35.8 78.4,39.2 79.2,38.3 80,38.7 80.8,37.9 81.5,41.1 82.3,37.3 83.1,39.8 83.9,40.8 84.7,44.4 85.4,43.3 86.2,41.6 87,47.5 87.8,45.8 88.6,46.4 89.4,50.2 90.1,48.9 90.9,53 91.7,51.4 92.5,54.2 93.3,56.2 94.1,53.6 94.8,57.4 95.6,57.4 96.4,64.2 97.2,64 98,61.7 98.7,62.9 99.5,67.1 100.3,67.4 101.1,74.4 101.9,73 102.7,77.9 103.4,74.9 104.2,78.3 105,80.2 105.8,79.8 106.6,76.3 107.4,86.1 108.1,86.3 108.9,82.6 109.7,88.5 110.5,82.5 111.3,88.6 112,90.1 112.8,90.8 113.6,88 114.4,95.3 115.2,99.2 116,102.6 116.7,111.4 117.5,109.5 118.3,100.5 119.1,104.7 119.9,107.7 120.7,108.4 121.4,114.2 122.2,110.3 123,115.4 123.8,109.5 124.6,114.7 125.3,113.6 126.1,112.2 126.9,117.2 127.7,114.5 128.5,117 129.3,119.2 130,117 130.8,131.1 131.6,132.8 132.4,123.4 133.2,121.3 134,115.8 134.7,120.9 135.5,120.9 136.3,129.7 137.1,124.6 137.9,127.4 138.6,137 139.4,137.7 140.2,134.6 141,132.5 141.8,142.7 142.6,132 143.3,130.6 144.1,131.6 144.9,129 145.7,127.6 146.5,133.8 147.2,128 148,131.4 148.8,135.4 149.6,132.2 150.4,128.5 151.2,142.4 151.9,143.3 152.7,142.7 153.5,126.4 154.3,136.3 155.1,136 155.9,139.8 156.6,140.8 157.4,146.1 158.2,137.8 159,139.4 159.8,151.2 160.5,148.6 161.3,147.9 162.1,144.6 162.9,143.3 163.7,140 164.5,140.1 165.2,142.4 166,141.7 166.8,152.5 167.6,149.5 168.4,142.4 169.2,147.5 169.9,150.6 170.7,161.2 171.5,162 172.3,151.1 173.1,152.2 173.8,153.6 174.6,152.5 175.4,157.3 176.2,148.1 177,146.2 177.8,145 178.5,153.1 179.3,154.5 180.1,157.4 180.9,145.7 181.7,141.6 182.5,149.5 183.2,143.3 184,142.4 184.8,144.7 185.6,152.1 186.4,144.9 187.1,141.4 187.9,151 188.7,148.4 189.5,153.9 190.3,138 191.1,140.9 191.8,143 192.6,144.5 193.4,146.2 194.2,144 195,146 195.8,147.7 196.5,149 197.3,150.1 198.1,145.4 198.9,159.8 199.7,153.2 200.4,157 201.2,158.4 202,162.2 202.8,149.8 203.6,157.2 204.4,156.7 205.1,151.5 205.9,157.8 206.7,153 207.5,154.4 208.3,151.3 209.1,159.4 209.8,169.7 210.6,157.8 211.4,160.3 212.2,158.9 213,158.4 213.7,151.2 214.5,157.2 215.3,149.7 216.1,144.7 216.9,150.6 217.7,141.6 218.4,155.1 219.2,152.2 220,156.1 220.8,156.9 221.6,158.7 222.4,155.2 223.1,151.7 223.9,153.7 224.7,145.2 225.5,141.1 226.3,152.6 227,140.7 227.8,142.2 228.6,141 229.4,131.2 230.2,134 231,136.3 231.7,136.4 232.5,146.9 233.3,135 234.1,142.1 234.9,137.9 235.7,137.7 236.4,133.7 237.2,128.8 238,132.8 238.8,130.4 239.6,135.2 240.3,130 241.1,126.2 241.9,133.1 242.7,115.1 243.5,124.5 244.3,125.4 245,111.7 245.8,109.6 246.6,122.2 247.4,121.8 248.2,108.8 249,116.9 249.7,125.2 250.5,118.7 251.3,106.8 252.1,111.5 252.9,109.1 253.6,104.7 254.4,104.7 255.2,106.9 256,110.5 256.8,100.3 257.6,106.5 258.3,101.5 259.1,93 259.9,97.5 260.7,98.1 261.5,96.3 262.3,91.8 263,89.9 263.8,98.3 264.6,92 265.4,85.5 266.2,87.8 266.9,91.6 267.7,89.5 268.5,92.7 269.3,86.9 270.1,77.8 270.9,82.5 271.6,84 272.4,81.8 273.2,79 274,77.7 274.8,77.4 275.6,77.4 276.3,71.5 277.1,67.1 277.9,71.7 278.7,70.1 279.5,63.6 280.2,69 281,63.9 281.8,60.2 282.6,55.8 283.4,54.6 284.2,54.9 284.9,51.8 285.7,55.7 286.5,56.9 287.3,56.1 288.1,48.7 288.9,52.9 289.6,47.1 290.4,45.6 291.2,43.9 292,43.6 292.8,41.8 293.5,38.4 294.3,38.2 295.1,38.5 295.9,33.6 296.7,36.9 297.5,33 298.2,34.9 299,36 299.8,34.2 300.6,32.4 301.4,35.2 302.2,33.6 302.9,33 303.7,30.4 304.5,29.2 305.3,28.7 306.1,28.6 306.8,27.4 307.6,24.6 308.4,24.3 309.2,25.6 310,28.3 310.8,26.3 311.5,27.5 312.3,28 313.1,25.8 313.9,26.9 314.7,29.3 315.5,29.1 316.2,25.6 317,26.9 317.8,25.7 318.6,27 319.4,27.9 320.1,25.8 320.9,23.6 321.7,24.9 322.5,26.4 323.3,24.9 324.1,25 324.8,24.2 325.6,23.2 326.4,22 327.2,24.8 328,26.2 328.8,25.9 329.5,25.9 330.3,26.4 331.1,25 331.9,23.8 332.7,24.6 333.4,21.9 334.2,23.5 335,24.8"/>
<line x1="49.9" y1="5.3" x2="49.9" y2="176.5" class="ax"/>
<line x1="45.9" y1="5.3" x2="49.9" y2="5.3" class="ax"/>
<text x="37.8" y="8.7" class="tl">5</text>
<line x1="45.9" y1="20.9" x2="49.9" y2="20.9" class="ax"/>
<text x="37.8" y="24.3" class="tl">0</text>
<line x1="45.9" y1="36.4" x2="49.9" y2="36.4" class="ax"/>
<text x="37.8" y="39.8" class="tl">-5</text>
<line x1="45.9" y1="52" x2="49.9" y2="52" class="ax"/>
<text x="37.8" y="55.4" class="tl">-10</text>
<line x1="45.9" y1="67.6" x2="49.9" y2="67.6" class="ax"/>
<text x="37.8" y="71" class="tl">-15</text>
<line x1="45.9" y1="83.1" x2="49.9" y2="83.1" class="ax"/>
<text x="37.8" y="86.5" class="tl">-20</text>
<line x1="45.9" y1="98.7" x2="49.9" y2="98.7" class="ax"/>
<text x="37.8" y="102.1" class="tl">-25</text>
<line x1="45.9" y1="114.2" x2="49.9" y2="114.2" class="ax"/>
<text x="37.8" y="117.6" class="tl">-30</text>
<line x1="45.9" y1="129.8" x2="49.9" y2="129.8" class="ax"/>
<text x="37.8" y="133.2" class="tl">-35</text>
<line x1="45.9" y1="145.4" x2="49.9" y2="145.4" class="ax"/>
<text x="37.8" y="148.8" class="tl">-40</text>
<line x1="45.9" y1="160.9" x2="49.9" y2="160.9" class="ax"/>
<text x="37.8" y="164.3" class="tl">-45</text>
<line x1="45.9" y1="176.5" x2="49.9" y2="176.5" class="ax"/>
<text x="37.8" y="179.9" class="tl">-50</text>
<line x1="49.9" y1="176.5" x2="335.4" y2="176.5" class="ax"/>
<path d="M49.5 176.5v4.5M53.5 176.5v4.5M57.5 176.5v4.5M61.5 176.5v4.5M65.5 176.5v4.5M69.5 176.5v4.5M73.5 176.5v4.5M77.5 176.5v4.5M81.5 176.5v4.5M85.5 176.5v4.5M88.5 176.5v4.5M92.5 176.5v4.5M96.5 176.5v4.5M100.5 176.5v4.5M104.5 176.5v4.5M108.5 176.5v4.5M112.5 176.5v4.5M116.5 176.5v4.5M120.5 176.5v4.5M124.5 176.5v4.5M128.5 176.5v4.5M131.5 176.5v4.5M135.5 176.5v4.5M139.5 176.5v4.5M143.5 176.5v4.5M147.5 176.5v4.5M151.5 176.5v4.5M155.5 176.5v4.5M159.5 176.5v4.5M163.5 176.5v4.5M167.5 176.5v4.5M171.5 176.5v4.5M175.5 176.5v4.5M178.5 176.5v4.5M182.5 176.5v4.5M186.5 176.5v4.5M190.5 176.5v4.5M194.5 176.5v4.5M198.5 176.5v4.5M202.5 176.5v4.5M206.5 176.5v4.5M210.5 176.5v4.5M214.5 176.5v4.5M218.5 176.5v4.5M221.5 176.5v4.5M225.5 176.5v4.5M229.5 176.5v4.5M233.5 176.5v4.5M237.5 176.5v4.5M241.5 176.5v4.5M245.5 176.5v4.5M249.5 176.5v4.5M253.5 176.5v4.5M257.5 176.5v4.5M261.5 176.5v4.5M264.5 176.5v4.5M268.5 176.5v4.5M272.5 176.5v4.5M276.5 176.5v4.5M280.5 176.5v4.5M284.5 176.5v4.5M288.5 176.5v4.5M292.5 176.5v4.5M296.5 176.5v4.5M300.5 176.5v4.5M304.5 176.5v4.5M308.5 176.5v4.5M311.5 176.5v4.5M315.5 176.5v4.5M319.5 176.5v4.5M323.5 176.5v4.5M327.5 176.5v4.5M331.5 176.5v4.5M335.5 176.5v4.5" class="tk"/>
<text transform="translate(54.5,184) rotate(-90)" class="ml">1 Aug</text>
<text transform="translate(78.8,184) rotate(-90)" class="ml">1 Sep</text>
<text transform="translate(102.3,184) rotate(-90)" class="ml">1 Oct</text>
<text transform="translate(126.5,184) rotate(-90)" class="ml">1 Nov</text>
<text transform="translate(150,184) rotate(-90)" class="ml">1 Dec</text>
<text transform="translate(174.2,184) rotate(-90)" class="ml">1 Jan</text>
<text transform="translate(198.5,184) rotate(-90)" class="ml">1 Feb</text>
<text transform="translate(220.4,184) rotate(-90)" class="ml">1 Mar</text>
<text transform="translate(244.7,184) rotate(-90)" class="ml">1 Apr</text>
<text transform="translate(268.1,184) rotate(-90)" class="ml">1 May</text>
<text transform="translate(292.4,184) rotate(-90)" class="ml">1 Jun</text>
<text transform="translate(315.8,184) rotate(-90)" class="ml">1 Jul</text>
<text transform="translate(12.9,85.9) rotate(-90)" class="yt">Air tempearture (°C)</text>
<line x1="87.1" y1="224.3" x2="114" y2="224.3" class="rl"/>
<text x="117.5" y="228.6" class="lg" textLength="141.4" lengthAdjust="spacingAndGlyphs">Teplitz Bay 1899-1900</text>
<line x1="397.6" y1="5.1" x2="681.8" y2="5.1" class="g"/>
<line x1="397.6" y1="20.7" x2="681.8" y2="20.7" class="g"/>
<line x1="397.6" y1="36.2" x2="681.8" y2="36.2" class="g"/>
<line x1="397.6" y1="51.8" x2="681.8" y2="51.8" class="g"/>
<line x1="397.6" y1="67.4" x2="681.8" y2="67.4" class="g"/>
<line x1="397.6" y1="83" x2="681.8" y2="83" class="g"/>
<line x1="397.6" y1="98.5" x2="681.8" y2="98.5" class="g"/>
<line x1="397.6" y1="114.1" x2="681.8" y2="114.1" class="g"/>
<line x1="397.6" y1="129.7" x2="681.8" y2="129.7" class="g"/>
<line x1="397.6" y1="145.3" x2="681.8" y2="145.3" class="g"/>
<line x1="397.6" y1="160.8" x2="681.8" y2="160.8" class="g"/>
<polyline class="m" points="398,17.4 398.8,17.4 399.5,18.1 400.3,18.9 401.1,18.6 401.9,18.8 402.7,19.3 403.4,19.6 404.2,19.7 405,20.3 405.8,19.5 406.6,19.5 407.3,20.2 408.1,20.1 408.9,21.5 409.7,21.6 410.4,21.8 411.2,20.9 412,22.2 412.8,21.4 413.6,21.4 414.3,21.9 415.1,21.8 415.9,22.8 416.7,23.5 417.5,22.8 418.2,23.9 419,24 419.8,24.5 420.6,23.8 421.3,24 422.1,24.7 422.9,24.1 423.7,24.5 424.5,24.6 425.2,24.5 426,24.6 426.8,24.4 427.6,24.5 428.4,24.9 429.1,24.6 429.9,25.5 430.7,25.5 431.5,25.7 432.2,25.6 433,26.9 433.8,26.5 434.6,27.9 435.4,28.9 436.1,30.4 436.9,31.3 437.7,32.8 438.5,34.2 439.3,34.9 440,35.1 440.8,35.6 441.6,35 442.4,35.3 443.1,36.1 443.9,36.9 444.7,37.8 445.5,38 446.3,38 447,37.7 447.8,39.2 448.6,40.8 449.4,41.6 450.2,42.9 450.9,44 451.7,44.3 452.5,44.8 453.3,44.5 454.1,46.7 454.8,46.5 455.6,46.8 456.4,48.8 457.2,48.4 457.9,50.3 458.7,52.8 459.5,53.9 460.3,55.8 461.1,57.7 461.8,59.6 462.6,61.2 463.4,62.8 464.2,65.9 465,66.6 465.7,69.6 466.5,68.8 467.3,69.3 468.1,70.4 468.8,70.5 469.6,70 470.4,71.3 471.2,71.2 472,70.9 472.7,70 473.5,69.1 474.3,66.1 475.1,68.7 475.9,68.1 476.6,68.5 477.4,70.7 478.2,72 479,73.1 479.7,72.4 480.5,72 481.3,73.5 482.1,74 482.9,75.2 483.6,75 484.4,78.7 485.2,76.6 486,76.9 486.8,78.6 487.5,75.4 488.3,80.2 489.1,80.9 489.9,81.8 490.6,80.1 491.4,83 492.2,82 493,83 493.8,84.3 494.5,87 495.3,87.1 496.1,85.3 496.9,89 497.7,88.7 498.4,87.8 499.2,86.4 500,86.7 500.8,86 501.5,88.2 502.3,86.5 503.1,87.4 503.9,90.3 504.7,87.4 505.4,87.3 506.2,91.3 507,91.1 507.8,90.3 508.6,93.9 509.3,94.6 510.1,93.8 510.9,93.1 511.7,93.5 512.4,92.7 513.2,93.3 514,94.7 514.8,92.3 515.6,90.4 516.3,90.6 517.1,90.2 517.9,90.6 518.7,89.1 519.5,91.3 520.2,90 521,91.7 521.8,90.9 522.6,92 523.3,93.9 524.1,92.7 524.9,91.6 525.7,94.2 526.5,93.3 527.2,92.9 528,92.9 528.8,89.3 529.6,88.1 530.4,88.3 531.1,88.7 531.9,88.9 532.7,88.8 533.5,90.5 534.2,89.8 535,90.5 535.8,91.1 536.6,92.7 537.4,91.6 538.1,91.4 538.9,89.3 539.7,91.8 540.5,95 541.3,93 542,91.3 542.8,92 543.6,90.4 544.4,89.2 545.2,89 545.9,86.6 546.7,84.8 547.5,83.6 548.3,84.5 549,86 549.8,88.9 550.6,89.1 551.4,91.4 552.2,92.5 552.9,91.7 553.7,94.5 554.5,96.8 555.3,96.4 556.1,95.9 556.8,99 557.6,97.3 558.4,97.3 559.2,98.2 559.9,97.8 560.7,95.9 561.5,95.3 562.3,92.7 563.1,93.4 563.8,95.4 564.6,94.7 565.4,93.1 566.2,91.6 567,92.8 567.7,92.4 568.5,90.2 569.3,92 570.1,92.2 570.8,93.6 571.6,92.8 572.4,89.9 573.2,93.7 574,92 574.7,93.6 575.5,92 576.3,91.1 577.1,92.2 577.9,90.9 578.6,90.8 579.4,91.1 580.2,89.8 581,91.1 581.7,92.5 582.5,93 583.3,93.1 584.1,91.8 584.9,92.9 585.6,90.6 586.4,91.5 587.2,94.1 588,94.5 588.8,92 589.5,94.8 590.3,91.8 591.1,88.7 591.9,89.5 592.6,88 593.4,86.8 594.2,84.6 595,84.3 595.8,83.2 596.5,82.1 597.3,81.8 598.1,80 598.9,81.5 599.7,82 600.4,81.8 601.2,80 602,76 602.8,71.3 603.5,70.2 604.3,70 605.1,69.9 605.9,68.7 606.7,67.8 607.4,67 608.2,66.8 609,64.7 609.8,62 610.6,64.1 611.3,61.1 612.1,61.8 612.9,58.8 613.7,58.9 614.4,59 615.2,55.7 616,52.5 616.8,52.4 617.6,50.2 618.3,50.2 619.1,51.2 619.9,48.5 620.7,48.7 621.5,48.9 622.2,46.7 623,46.9 623.8,47.4 624.6,46.1 625.3,46.8 626.1,44.8 626.9,44.9 627.7,42.7 628.5,42.7 629.2,40 630,39.9 630.8,38.3 631.6,39 632.4,38.1 633.1,36.7 633.9,37.9 634.7,36.7 635.5,35 636.3,34.6 637,33.6 637.8,33.5 638.6,32.3 639.4,32.2 640.1,31.9 640.9,31.1 641.7,29.4 642.5,28.1 643.3,26.8 644,26.2 644.8,25.2 645.6,23.9 646.4,23 647.2,23 647.9,22.9 648.7,23.3 649.5,21.6 650.3,22.5 651,21.2 651.8,21 652.6,21.4 653.4,21.7 654.2,21.3 654.9,21.7 655.7,20.9 656.5,20.7 657.3,20.2 658.1,19.7 658.8,19.2 659.6,19.8 660.4,19.2 661.2,19.8 661.9,19.7 662.7,19.5 663.5,19.4 664.3,18.4 665.1,18.2 665.8,17.9 666.6,18.4 667.4,18.3 668.2,18.6 669,18.7 669.7,17.9 670.5,17.9 671.3,18.3 672.1,17.6 672.8,18.4 673.6,17.7 674.4,17.7 675.2,17.6 676,17.7 676.7,16.9 677.5,16.9 678.3,16.8 679.1,17.3 679.9,18 680.6,17.7 681.4,18"/>
<polyline class="r" points="422.1,20 422.1,22.1 422.9,27.9 423.3,30.3 423.7,40.4 424.5,58.3 424.5,59.3 425.2,41.3 425.8,27.8 426,26.7 426.8,33.3 427.6,33.4 428.2,35 428.4,31.6 429.1,28.5 429.9,27.1 430.6,25.3 430.7,25.6 431.5,36.5 431.8,42.5 432.2,41.8 433,39.3 433.8,33.3 434.2,30.3 434.6,32.2 435.4,43.3 435.5,44.7 436.1,49.2 436.9,58.1 437.7,67.2 437.9,68.9 438.5,67.7 439.1,61.8 439.3,60.4 440,53.3 440.8,41.7 441.5,35 441.6,32.5 442.4,46.5 442.7,49.6 443.1,42.7 443.9,46.8 444.7,40 445.2,42.5 445.5,47.2 446.3,47.4 447,55.4 447.6,59.3 447.8,64.7 448.6,86.1 448.8,83.6 449.4,86.6 450.2,93.1 450.9,90.9 451.2,100.4 451.7,92.3 452.5,78.6 453.3,76.4 453.6,68.9 454.1,66.5 454.8,83.6 455.6,83.6 456.1,81.1 456.4,80.1 457.2,76.4 457.9,59.3 458.5,61.8 458.7,70.2 459.5,66.4 460.3,84.5 460.9,93.2 461.1,89.9 461.8,73.4 462.1,73.9 462.6,72.2 463.4,59.2 464.2,49.3 464.5,49.6 465,57.3 465.7,50.7 466.5,55.3 467,56.8 467.3,55.7 468.1,74.8 468.8,72.2 469.4,81.1 469.6,86.2 470.4,79.2 471.2,104.5 471.8,105.1 472,109.5 472.7,102.6 473.5,107.5 474.2,117.2 474.3,115.2 475.1,119.1 475.9,143.2 476.5,151.5 476.6,147.5 477.4,136.6 477.9,122.2 478.2,102.8 479,67.7 479.1,56.8 479.7,68.5 480.3,103.5 480.5,99.5 481.3,102 482.1,76 482.8,78.3 482.9,75.3 483.6,57.3 484.2,44 484.4,46.5 485.2,46.5 485.7,41.2 486,41.3 486.8,45.3 487.1,61.2 487.5,59.2 488.3,44.7 488.5,47.1 489.1,65.9 489.9,51.6 490.6,66.8 491.3,75.2 491.4,68.2 492.2,62 492.7,64 493,61.5 493.8,72 494.5,65.2 495.3,82.6 495.5,86.7 496.1,111.8 496.9,114.3 497,120.6 497.7,114 498.4,92.3 498.4,91.6 499.2,96.3 500,99.3 500.8,99.7 501.2,100.7 501.5,103.2 502.3,103.2 503.1,101.6 503.9,96.4 504,89.5 504.7,99 505.4,93.6 506.2,95.8 506.9,109.4 507,106.5 507.8,100.8 508.6,95.9 509.3,107.7 509.7,95.1 510.1,92.6 510.9,97.9 511.7,111.5 512.4,108.5 512.5,112.2 513.2,98.2 514,107.6 514.8,100.9 515.3,100.7 515.6,108.3 516.3,100.4 517.1,98.2 517.9,108.2 518.2,106.3 518.7,105.5 519.5,117.5 520.2,117.5 521,115 521,123 521.8,117.1 522.6,125.1 523.3,112.9 523.8,123.5 524.1,133.4 524.9,137.4 525.7,154.8 525.8,160.2 526.5,154.9 527.2,145.2 527.5,129.1 528,95.3 528.8,97.5 529.5,58.4 529.6,49.8 530.4,54.8 531.1,59.9 531.9,47.5 532.3,49.9 532.7,55.6 533.5,58.5 534.2,47.5 535,65.3 535.1,64 535.8,80.5 536.6,83.2 537.4,100.6 538,112.2 538.1,103.4 538.9,98.2 539.7,104.7 540.5,108.1 540.8,100.7 541.3,108.8 542,101 542.8,103.1 543.6,101.4 543.6,106.3 544.4,100.7 545.2,107.6 545.9,90.2 546.4,92.3 546.7,103.8 547.5,112.9 548.3,116 549,105.6 549.3,123.5 549.8,128 550.6,131.6 550.7,140.3 551.4,134.1 552.1,103.5 552.2,104.2 552.9,106 553.4,99.5 553.7,106.5 554.5,129.3 555.1,133.1 555.3,123.5 556.1,105.7 556.8,77.3 557.1,62.4 557.6,64.4 558.4,72.5 559,79.5 559.2,82 559.9,61.5 560.7,48.4 560.7,51.7 561.5,54.1 562.3,78.4 562.7,93.6 563.1,84.6 563.8,81.6 564.6,82.5 564.7,71.1 565.4,85.3 566.2,86.2 567,98.2 567,104.8 567.7,106.4 568.5,98.7 569.2,90.8 569.3,88.3 570.1,102.7 570.8,113.5 571.2,119.1 571.6,122.7 572.4,133.1 573.2,138.9 573.2,138.7 574,143.9 574.7,158.3 574.9,155.8 575.5,150.8 576.3,150.8 576.9,133.1 577.1,113.6 577.9,109.1 578.3,104.8 578.6,104.3 579.4,85.9 580.2,77.3 580.5,76.7 581,81.4 581.7,82.7 582.5,90.8 582.5,93.2 583.3,72.6 583.9,42.8 584.1,49.3 584.9,41.1 585.6,45 586.2,65.2 586.4,62 587.2,47.8 588,34.7 588.2,37.2 588.8,54.2 589.5,52 589.6,54 590.3,74.5 591.1,88.7 591.8,104.8 591.9,107.3 592.6,93.2 593.4,92.3 593.8,85.1 594.2,93 595,109.5 595.8,128.8 595.8,133.1 596.5,135.6 597.3,116.8 598.1,108.2 598.1,110.7 598.9,98.7 599.7,88.3 600.3,90.8 600.4,93.2 601.2,90.3 602,74.2 602.3,76.7 602.8,87.8 603.5,93.2 604.3,90.8 604.3,93.2 605.1,85 605.9,79.9 606,82.3 606.7,94.3 607.4,104.5 608,102 608.2,104.5 609,98.2 609.8,98.2 610,100.7"/>
<polyline class="s1" points="398,13.9 398.8,15.5 399.5,15.6 400.3,16.2 401.1,14.5 401.9,15 402.7,13.6 403.4,15.2 404.2,16.5 405,16 405.8,16.4 406.6,16.7 407.3,14 408.1,14.7 408.9,17.2 409.7,14.3 410.4,16.6 411.2,18.7 412,17.7 412.8,18.1 413.6,18.4 414.3,19.1 415.1,16.6 415.9,16.3 416.7,19.3 417.5,16.7 418.2,17 419,18.5 419.8,18.1 420.6,18.6 421.3,19.1 422.1,18.7 422.9,17 423.7,20.3 424.5,18.4 425.2,18.3 426,19.2 426.8,18.8 427.6,20 428.4,19.4 429.1,18.4 429.9,18.1 430.7,19.4 431.5,15.3 432.2,18.5 433,17.8 433.8,18.5 434.6,19.4 435.4,18 436.1,21.3 436.9,19.2 437.7,19.9 438.5,24 439.3,21.3 440,25.2 440.8,21.4 441.6,26.7 442.4,27.9 443.1,29.2 443.9,27.6 444.7,26.2 445.5,27.7 446.3,29.2 447,29.4 447.8,29.4 448.6,26.5 449.4,33.4 450.2,31 450.9,32.2 451.7,34.4 452.5,34.9 453.3,35.2 454.1,32.3 454.8,35.6 455.6,37.5 456.4,35.3 457.2,36.6 457.9,38.1 458.7,36.5 459.5,40.5 460.3,37 461.1,38.8 461.8,43 462.6,47.2 463.4,39.1 464.2,45.4 465,39.5 465.7,51.6 466.5,47.6 467.3,53.3 468.1,50.4 468.8,46.9 469.6,51.1 470.4,46.7 471.2,45 472,45.4 472.7,43.5 473.5,42.6 474.3,44.6 475.1,48 475.9,51.5 476.6,55.5 477.4,54.7 478.2,54 479,48.8 479.7,51.4 480.5,53.1 481.3,44.9 482.1,49.7 482.9,49.7 483.6,48 484.4,45.4 485.2,55.6 486,52.5 486.8,49.5 487.5,54 488.3,58.5 489.1,59 489.9,52.5 490.6,59 491.4,53.7 492.2,52.6 493,57 493.8,53.9 494.5,57.5 495.3,58.3 496.1,60.7 496.9,54.3 497.7,60.7 498.4,62.9 499.2,66.1 500,55.6 500.8,59.8 501.5,63.2 502.3,65.1 503.1,67.7 503.9,60.2 504.7,59.8 505.4,66.4 506.2,57.7 507,60.5 507.8,68.1 508.6,67.3 509.3,67.1 510.1,64.7 510.9,65.4 511.7,70.7 512.4,59.4 513.2,64.9 514,63.1 514.8,64.9 515.6,71.5 516.3,69.6 517.1,67.3 517.9,65.7 518.7,67.5 519.5,67.6 520.2,64.1 521,66.8 521.8,66 522.6,71.6 523.3,63.3 524.1,66.5 524.9,63.5 525.7,60.6 526.5,58.7 527.2,52.3 528,57.9 528.8,63.2 529.6,57 530.4,60 531.1,56.9 531.9,61.5 532.7,61.6 533.5,60.5 534.2,60.9 535,66.2 535.8,63.4 536.6,62.5 537.4,58.9 538.1,64.4 538.9,64 539.7,59.4 540.5,58.3 541.3,53 542,55.9 542.8,58 543.6,53.2 544.4,52.9 545.2,60.3 545.9,57.4 546.7,63.5 547.5,58 548.3,60 549,58.4 549.8,61 550.6,61.3 551.4,61.5 552.2,58.6 552.9,58.5 553.7,60.8 554.5,63.3 555.3,54.1 556.1,53.7 556.8,61.1 557.6,57.7 558.4,65.7 559.2,65.9 559.9,61.1 560.7,55 561.5,65.5 562.3,66.4 563.1,59.3 563.8,73.9 564.6,65.3 565.4,66.4 566.2,69.2 567,67.5 567.7,58.6 568.5,68.4 569.3,62.2 570.1,60.5 570.8,61.1 571.6,62.5 572.4,52.9 573.2,60 574,69 574.7,66.3 575.5,62.5 576.3,63.1 577.1,70 577.9,64.6 578.6,63.3 579.4,63.6 580.2,65.8 581,77.3 581.7,66.5 582.5,74.2 583.3,68.2 584.1,66 584.9,74.7 585.6,79.2 586.4,72.3 587.2,76.7 588,77.3 588.8,77.8 589.5,65.3 590.3,71.2 591.1,73.6 591.9,69.5 592.6,71.7 593.4,65.9 594.2,67 595,68.5 595.8,61.2 596.5,64.9 597.3,59.1 598.1,56.4 598.9,61.9 599.7,62.5 600.4,57.8 601.2,52.5 602,53.2 602.8,50.6 603.5,50.1 604.3,48.3 605.1,46.9 605.9,51.6 606.7,50.6 607.4,48.7 608.2,51.7 609,49.6 609.8,49.3 610.6,52 611.3,53.4 612.1,53.4 612.9,44.7 613.7,47 614.4,50.9 615.2,47.1 616,36.7 616.8,36.2 617.6,39.6 618.3,37.2 619.1,45.2 619.9,42.2 620.7,40.7 621.5,46.9 622.2,42.5 623,36.3 623.8,33.6 624.6,36.6 625.3,33.8 626.1,30.2 626.9,34.5 627.7,36.4 628.5,33.4 629.2,33.9 630,29.7 630.8,31.3 631.6,32.5 632.4,26.1 633.1,31.3 633.9,29.7 634.7,29.6 635.5,29.5 636.3,30 637,28.2 637.8,27.8 638.6,28.8 639.4,26.1 640.1,25.6 640.9,25.2 641.7,24.3 642.5,24.7 643.3,21.5 644,20.6 644.8,24.3 645.6,21.4 646.4,22 647.2,23.6 647.9,20.5 648.7,21.2 649.5,20.4 650.3,20.2 651,17.9 651.8,17.4 652.6,17.9 653.4,16.9 654.2,17.5 654.9,17.2 655.7,18.5 656.5,17.8 657.3,18.5 658.1,16.8 658.8,15.6 659.6,15.4 660.4,14.1 661.2,12.9 661.9,17.5 662.7,15.4 663.5,16.2 664.3,16.1 665.1,16.9 665.8,15.1 666.6,15.3 667.4,15.9 668.2,16 669,16.9 669.7,19.1 670.5,15.7 671.3,17.2 672.1,17.7 672.8,16.1 673.6,17.1 674.4,18.9 675.2,16 676,19.4 676.7,18.2 677.5,17.9 678.3,16.5 679.1,16.3 679.9,17.1 680.6,17.8 681.4,17"/>
<polyline class="s1" points="398,19.4 398.8,20.8 399.5,22.7 400.3,25.5 401.1,23.5 401.9,23 402.7,23.6 403.4,23 404.2,24.1 405,24.1 405.8,24.8 406.6,22.6 407.3,24.3 408.1,25.3 408.9,26.4 409.7,25.3 410.4,23.7 411.2,25.2 412,27 412.8,25.1 413.6,25.5 414.3,26.2 415.1,26.6 415.9,26.5 416.7,27.9 417.5,28.5 418.2,31.1 419,29.4 419.8,31.3 420.6,29.7 421.3,34.4 422.1,31.6 422.9,31.7 423.7,33.4 424.5,32.6 425.2,32.1 426,32.1 426.8,33.4 427.6,33.3 428.4,32.6 429.1,32.9 429.9,34.8 430.7,35.4 431.5,35.8 432.2,35.6 433,39.1 433.8,40.6 434.6,39.9 435.4,42.8 436.1,43.4 436.9,43.8 437.7,44.5 438.5,48.4 439.3,46.7 440,52.3 440.8,49.3 441.6,54 442.4,54.7 443.1,52.5 443.9,55.6 444.7,57.2 445.5,57.4 446.3,56.5 447,58.7 447.8,59.9 448.6,58.7 449.4,63.6 450.2,64.3 450.9,65.4 451.7,62.1 452.5,62.4 453.3,61.7 454.1,65.6 454.8,67.5 455.6,67.3 456.4,73.3 457.2,72.8 457.9,75.5 458.7,81.7 459.5,82 460.3,83.8 461.1,79.3 461.8,79.1 462.6,88.4 463.4,89.5 464.2,98 465,89.2 465.7,89.3 466.5,93.1 467.3,86.9 468.1,96.9 468.8,93.1 469.6,92.7 470.4,98.7 471.2,91.4 472,90.6 472.7,98.9 473.5,97.6 474.3,89.5 475.1,92.3 475.9,97.1 476.6,95.7 477.4,98.2 478.2,100.8 479,98.3 479.7,100.1 480.5,94.5 481.3,95.6 482.1,98.5 482.9,97.6 483.6,96.9 484.4,98.4 485.2,103.8 486,94 486.8,95.6 487.5,89.3 488.3,95.2 489.1,94 489.9,95.1 490.6,90.8 491.4,98.4 492.2,102.2 493,101.4 493.8,104.7 494.5,102.6 495.3,103.9 496.1,104 496.9,99.2 497.7,109 498.4,107.7 499.2,108.2 500,104.5 500.8,111.8 501.5,111.6 502.3,111.3 503.1,110.7 503.9,113.2 504.7,114.2 505.4,114.8 506.2,109.7 507,107.1 507.8,112.8 508.6,115.2 509.3,115.8 510.1,122 510.9,120.3 511.7,120.5 512.4,118.4 513.2,119.3 514,122.9 514.8,113.2 515.6,110.1 516.3,116.5 517.1,113.3 517.9,113.7 518.7,112.4 519.5,121.7 520.2,110.5 521,117.7 521.8,110.1 522.6,113.1 523.3,113.8 524.1,112.7 524.9,108.9 525.7,116.3 526.5,115.2 527.2,115.8 528,119.8 528.8,107.3 529.6,110 530.4,112.3 531.1,107.8 531.9,116.2 532.7,114.5 533.5,109 534.2,112.2 535,124 535.8,123.7 536.6,119 537.4,111.2 538.1,117.6 538.9,118.2 539.7,117 540.5,124.2 541.3,120.7 542,118.1 542.8,117.9 543.6,116.6 544.4,119.2 545.2,114.7 545.9,118.9 546.7,114.1 547.5,112.8 548.3,125.8 549,132.3 549.8,125.9 550.6,122.2 551.4,118.4 552.2,117.3 552.9,123.8 553.7,124.1 554.5,116.9 555.3,126.2 556.1,118.2 556.8,123.1 557.6,119.4 558.4,120 559.2,120.4 559.9,121.2 560.7,128.5 561.5,123.5 562.3,123.4 563.1,120.6 563.8,115.6 564.6,120.6 565.4,122.4 566.2,122.8 567,121.4 567.7,117.5 568.5,123.5 569.3,116.3 570.1,119.5 570.8,120.8 571.6,124 572.4,117.1 573.2,114.5 574,123.1 574.7,111.9 575.5,110.2 576.3,114.8 577.1,113.3 577.9,105.8 578.6,108.7 579.4,116.5 580.2,113.2 581,113.1 581.7,111.7 582.5,118.1 583.3,106.1 584.1,110.9 584.9,107.4 585.6,108.1 586.4,104 587.2,108.5 588,110.7 588.8,106.1 589.5,103 590.3,109.4 591.1,103.1 591.9,107.4 592.6,110.2 593.4,101.7 594.2,108.5 595,98.7 595.8,101.2 596.5,95.1 597.3,99.9 598.1,96.9 598.9,88.8 599.7,90.9 600.4,90 601.2,90.1 602,85.1 602.8,90.5 603.5,87.9 604.3,82.7 605.1,83.7 605.9,81.9 606.7,78.8 607.4,78.6 608.2,78.4 609,70.8 609.8,71.9 610.6,69.4 611.3,71.7 612.1,71.5 612.9,73.3 613.7,69.3 614.4,74.5 615.2,69.7 616,64.7 616.8,60.5 617.6,60.2 618.3,63.2 619.1,58 619.9,60.7 620.7,56.4 621.5,59.1 622.2,56.6 623,52.8 623.8,55.1 624.6,50.8 625.3,54.6 626.1,54.6 626.9,49.5 627.7,47.1 628.5,50.3 629.2,46.7 630,47.9 630.8,43.8 631.6,41 632.4,42.9 633.1,43.7 633.9,44.6 634.7,40.2 635.5,38.1 636.3,37.3 637,37.3 637.8,39.4 638.6,34.4 639.4,37.3 640.1,37.4 640.9,35.6 641.7,38.8 642.5,35 643.3,34 644,31.7 644.8,28.9 645.6,28.2 646.4,29.6 647.2,27.3 647.9,26.4 648.7,26.5 649.5,28.1 650.3,28.6 651,26.4 651.8,26.7 652.6,26.8 653.4,28.1 654.2,23.5 654.9,27.3 655.7,24.8 656.5,21.8 657.3,23.9 658.1,23.1 658.8,24.2 659.6,21.1 660.4,23.8 661.2,22.1 661.9,22.2 662.7,23.3 663.5,20.9 664.3,23.1 665.1,22 665.8,21.2 666.6,21.9 667.4,21.2 668.2,20.9 669,22.1 669.7,22.3 670.5,22.2 671.3,22.3 672.1,21.5 672.8,23.1 673.6,22.6 674.4,23 675.2,23.5 676,21.4 676.7,23.4 677.5,22.1 678.3,20.2 679.1,22.8 679.9,21.3 680.6,22.6 681.4,21"/>
<polyline class="s2" points="398,10.1 398.8,11.6 399.5,12.9 400.3,13.3 401.1,9.5 401.9,11.6 402.7,9.2 403.4,14.4 404.2,13.4 405,12.8 405.8,13.6 406.6,12.6 407.3,12.9 408.1,13.8 408.9,16 409.7,14.8 410.4,11.4 411.2,13 412,12.3 412.8,15.1 413.6,14.4 414.3,15 415.1,12.6 415.9,12.4 416.7,11.3 417.5,9.4 418.2,13.3 419,11.4 419.8,14.6 420.6,11 421.3,13.1 422.1,12.6 422.9,12.7 423.7,10.9 424.5,13.4 425.2,13.8 426,14.2 426.8,11.5 427.6,12.8 428.4,12.4 429.1,12 429.9,11.3 430.7,13.5 431.5,11.4 432.2,9.4 433,14.3 433.8,9.4 434.6,7.6 435.4,11.9 436.1,9.3 436.9,12.5 437.7,9 438.5,10.4 439.3,9.5 440,12.5 440.8,12.5 441.6,11.7 442.4,12 443.1,11.3 443.9,9.8 444.7,11.3 445.5,8.5 446.3,6.6 447,12.6 447.8,7.3 448.6,10.6 449.4,13.6 450.2,17.1 450.9,17.5 451.7,18.5 452.5,15.3 453.3,17.6 454.1,8.7 454.8,12.7 455.6,8.1 456.4,8 457.2,17.1 457.9,11.7 458.7,8.8 459.5,19.3 460.3,18.9 461.1,24.7 461.8,25.6 462.6,28.8 463.4,31.6 464.2,26.7 465,25 465.7,28 466.5,21 467.3,22.5 468.1,23.5 468.8,28.6 469.6,15.8 470.4,17.3 471.2,32.1 472,28 472.7,26.1 473.5,20.7 474.3,19.6 475.1,26 475.9,23.4 476.6,21.6 477.4,30.8 478.2,23.5 479,28.4 479.7,27.4 480.5,29.7 481.3,35.6 482.1,35 482.9,29.7 483.6,27.6 484.4,27.1 485.2,19.8 486,26.2 486.8,30.3 487.5,27 488.3,26.7 489.1,26.9 489.9,21.6 490.6,24.9 491.4,23.5 492.2,26.3 493,30.9 493.8,27.6 494.5,36 495.3,36.7 496.1,44 496.9,39.4 497.7,39.6 498.4,34.1 499.2,25.6 500,22.6 500.8,27.5 501.5,32.8 502.3,30.4 503.1,34.1 503.9,38.3 504.7,35.7 505.4,35.7 506.2,36.6 507,27.8 507.8,36.8 508.6,37.9 509.3,34.2 510.1,41.7 510.9,45.2 511.7,45.7 512.4,42.1 513.2,44.9 514,48.7 514.8,55.6 515.6,58.4 516.3,45.5 517.1,48 517.9,39.1 518.7,44.9 519.5,41.6 520.2,40.2 521,33.2 521.8,47.8 522.6,32.5 523.3,42.6 524.1,37.1 524.9,34 525.7,38.9 526.5,32.9 527.2,27.5 528,28.3 528.8,30.7 529.6,27.2 530.4,27.8 531.1,35.2 531.9,23.4 532.7,28.8 533.5,39.2 534.2,32.2 535,20.4 535.8,21 536.6,27.6 537.4,37.1 538.1,31.9 538.9,27.7 539.7,32.3 540.5,36.9 541.3,39.2 542,31.9 542.8,35 543.6,31.4 544.4,30 545.2,24.7 545.9,30.7 546.7,29.8 547.5,38.8 548.3,27.2 549,31.1 549.8,39.5 550.6,53.8 551.4,49.9 552.2,48.1 552.9,36.6 553.7,37.6 554.5,30.2 555.3,24.6 556.1,19.6 556.8,30.1 557.6,29.8 558.4,32.8 559.2,30.6 559.9,32.8 560.7,33.3 561.5,40.6 562.3,37.6 563.1,44.2 563.8,34.9 564.6,48.7 565.4,37.5 566.2,38.9 567,49.6 567.7,38.6 568.5,38.9 569.3,47.3 570.1,36.7 570.8,38 571.6,34.1 572.4,37.9 573.2,33.8 574,32 574.7,35.4 575.5,37.7 576.3,35.2 577.1,37.4 577.9,30.3 578.6,41.2 579.4,25.8 580.2,33.8 581,33.8 581.7,34 582.5,44.9 583.3,31.3 584.1,46.3 584.9,39.7 585.6,41.6 586.4,39.6 587.2,48.2 588,57.8 588.8,53 589.5,65 590.3,55.4 591.1,55.3 591.9,45.4 592.6,52.7 593.4,52.1 594.2,51.1 595,48.6 595.8,44.7 596.5,37.6 597.3,44.4 598.1,39.2 598.9,45.7 599.7,41.4 600.4,40.6 601.2,46.2 602,42 602.8,37.4 603.5,33.1 604.3,31.1 605.1,35.1 605.9,38.7 606.7,41.3 607.4,30.4 608.2,26.9 609,30.3 609.8,24.9 610.6,33.1 611.3,33.4 612.1,26.6 612.9,37 613.7,31 614.4,30.9 615.2,29.6 616,21.3 616.8,28.5 617.6,26.6 618.3,31.5 619.1,27.7 619.9,26.9 620.7,28.1 621.5,28.5 622.2,27.2 623,29.8 623.8,33.1 624.6,25.8 625.3,23.7 626.1,26.9 626.9,25 627.7,17.7 628.5,20 629.2,20.2 630,21.5 630.8,22.8 631.6,24.1 632.4,21.2 633.1,22.8 633.9,23.1 634.7,21.9 635.5,21.8 636.3,19.3 637,22.4 637.8,15.2 638.6,20.8 639.4,18.9 640.1,15.7 640.9,18.5 641.7,17.7 642.5,16.6 643.3,19.9 644,17.1 644.8,17.5 645.6,16.2 646.4,14.8 647.2,14.4 647.9,13.1 648.7,13.2 649.5,13.9 650.3,15.4 651,13.6 651.8,16 652.6,14.3 653.4,11.8 654.2,12.4 654.9,15 655.7,13.3 656.5,10.5 657.3,10.4 658.1,9.4 658.8,13.2 659.6,12.4 660.4,10.8 661.2,11.8 661.9,10.7 662.7,10.9 663.5,10.7 664.3,11.4 665.1,10.4 665.8,10.2 666.6,11.3 667.4,13.5 668.2,10 669,11.3 669.7,10.8 670.5,10.9 671.3,13.5 672.1,10.5 672.8,12.3 673.6,12.9 674.4,8.9 675.2,10.7 676,9.8 676.7,9.3 677.5,8.9 678.3,14.2 679.1,12.8 679.9,10.6 680.6,12.4 681.4,14.5"/>
<polyline class="s2" points="398,21.1 398.8,24.8 399.5,23.4 400.3,24.6 401.1,25.5 401.9,26.3 402.7,29.6 403.4,28.3 404.2,26.8 405,30 405.8,29 406.6,29.8 407.3,28.3 408.1,30.4 408.9,26.9 409.7,30.1 410.4,32.3 411.2,28.1 412,29.5 412.8,30.2 413.6,30.2 414.3,31.4 415.1,31.3 415.9,30.3 416.7,30.5 417.5,30.9 418.2,32.3 419,33.5 419.8,33.2 420.6,31.4 421.3,31.2 422.1,34.3 422.9,35.3 423.7,33.7 424.5,35 425.2,35.6 426,39 426.8,38.1 427.6,38.5 428.4,37.7 429.1,40.9 429.9,37.1 430.7,39.6 431.5,40.6 432.2,44.2 433,43.1 433.8,41.4 434.6,47.3 435.4,45.6 436.1,46.2 436.9,50 437.7,48.8 438.5,52.9 439.3,51.2 440,54 440.8,56 441.6,53.4 442.4,57.2 443.1,57.2 443.9,64 444.7,63.8 445.5,61.5 446.3,62.7 447,67 447.8,67.2 448.6,74.3 449.4,72.9 450.2,77.7 450.9,74.8 451.7,78.1 452.5,80 453.3,79.7 454.1,76.1 454.8,85.9 455.6,86.2 456.4,82.4 457.2,88.3 457.9,82.3 458.7,88.4 459.5,90 460.3,90.6 461.1,87.9 461.8,95.2 462.6,99 463.4,102.5 464.2,111.3 465,109.4 465.7,100.3 466.5,104.6 467.3,107.6 468.1,108.3 468.8,114.1 469.6,110.2 470.4,115.2 471.2,109.3 472,114.5 472.7,113.5 473.5,112.1 474.3,117 475.1,114.3 475.9,116.8 476.6,119.1 477.4,116.9 478.2,131 479,132.7 479.7,123.2 480.5,121.2 481.3,115.7 482.1,120.8 482.9,120.8 483.6,129.6 484.4,124.5 485.2,127.2 486,136.9 486.8,137.5 487.5,134.5 488.3,132.4 489.1,142.6 489.9,131.9 490.6,130.4 491.4,131.5 492.2,128.9 493,127.5 493.8,133.6 494.5,127.9 495.3,131.2 496.1,135.2 496.9,132.1 497.7,128.4 498.4,142.3 499.2,143.2 500,142.6 500.8,126.3 501.5,136.2 502.3,135.9 503.1,139.6 503.9,140.7 504.7,146 505.4,137.7 506.2,139.2 507,151.1 507.8,148.5 508.6,147.7 509.3,144.4 510.1,143.2 510.9,139.9 511.7,139.9 512.4,142.3 513.2,141.6 514,152.4 514.8,149.4 515.6,142.3 516.3,147.3 517.1,150.5 517.9,161.1 518.7,161.9 519.5,150.9 520.2,152.1 521,153.5 521.8,152.4 522.6,157.2 523.3,148 524.1,146.1 524.9,144.9 525.7,153 526.5,154.3 527.2,157.3 528,145.5 528.8,141.5 529.6,149.4 530.4,143.2 531.1,142.3 531.9,144.5 532.7,152 533.5,144.8 534.2,141.3 535,150.8 535.8,148.3 536.6,153.8 537.4,137.8 538.1,140.8 538.9,142.9 539.7,144.4 540.5,146 541.3,143.9 542,145.9 542.8,147.6 543.6,148.8 544.4,150 545.2,145.3 545.9,159.7 546.7,153.1 547.5,156.9 548.3,158.3 549,162.1 549.8,149.7 550.6,157.1 551.4,156.6 552.2,151.4 552.9,157.7 553.7,152.9 554.5,154.3 555.3,151.1 556.1,159.3 556.8,169.5 557.6,157.7 558.4,160.2 559.2,158.7 559.9,158.3 560.7,151.1 561.5,157 562.3,149.6 563.1,144.6 563.8,150.5 564.6,141.5 565.4,155 566.2,152.1 567,156 567.7,156.8 568.5,158.6 569.3,155.1 570.1,151.6 570.8,153.6 571.6,145.1 572.4,140.9 573.2,152.5 574,140.5 574.7,142.1 575.5,140.8 576.3,131.1 577.1,133.9 577.9,136.2 578.6,136.2 579.4,146.8 580.2,134.8 581,142 581.7,137.8 582.5,137.6 583.3,133.5 584.1,128.7 584.9,132.7 585.6,130.3 586.4,135 587.2,129.9 588,126.1 588.8,133 589.5,114.9 590.3,124.4 591.1,125.3 591.9,111.6 592.6,109.5 593.4,122.1 594.2,121.7 595,108.7 595.8,116.8 596.5,125.1 597.3,118.6 598.1,106.6 598.9,111.3 599.7,109 600.4,104.6 601.2,104.6 602,106.8 602.8,110.4 603.5,100.2 604.3,106.3 605.1,101.3 605.9,92.9 606.7,97.3 607.4,98 608.2,96.2 609,91.7 609.8,89.7 610.6,98.2 611.3,91.9 612.1,85.3 612.9,87.6 613.7,91.5 614.4,89.3 615.2,92.5 616,86.7 616.8,77.6 617.6,82.3 618.3,83.9 619.1,81.7 619.9,78.8 620.7,77.6 621.5,77.2 622.2,77.2 623,71.3 623.8,66.9 624.6,71.5 625.3,70 626.1,63.5 626.9,68.9 627.7,63.7 628.5,60 629.2,55.6 630,54.5 630.8,54.7 631.6,51.6 632.4,55.6 633.1,56.8 633.9,56 634.7,48.5 635.5,52.7 636.3,46.9 637,45.4 637.8,43.7 638.6,43.4 639.4,41.6 640.1,38.2 640.9,38 641.7,38.3 642.5,33.4 643.3,36.8 644,32.8 644.8,34.7 645.6,35.8 646.4,34 647.2,32.2 647.9,35 648.7,33.5 649.5,32.8 650.3,30.2 651,29 651.8,28.5 652.6,28.4 653.4,27.2 654.2,24.4 654.9,24.1 655.7,25.5 656.5,28.1 657.3,26.1 658.1,27.3 658.8,27.8 659.6,25.6 660.4,26.7 661.2,29.1 661.9,28.9 662.7,25.4 663.5,26.7 664.3,25.5 665.1,26.8 665.8,27.8 666.6,25.7 667.4,23.4 668.2,24.7 669,26.3 669.7,24.8 670.5,24.9 671.3,24 672.1,23 672.8,21.9 673.6,24.6 674.4,26 675.2,25.7 676,25.7 676.7,26.2 677.5,24.9 678.3,23.6 679.1,24.4 679.9,21.7 680.6,23.3 681.4,24.6"/>
<line x1="397.6" y1="5.1" x2="397.6" y2="176.4" class="ax"/>
<line x1="393.6" y1="5.1" x2="397.6" y2="5.1" class="ax"/>
<text x="385.5" y="8.5" class="tl">5</text>
<line x1="393.6" y1="20.7" x2="397.6" y2="20.7" class="ax"/>
<text x="385.5" y="24.1" class="tl">0</text>
<line x1="393.6" y1="36.2" x2="397.6" y2="36.2" class="ax"/>
<text x="385.5" y="39.6" class="tl">-5</text>
<line x1="393.6" y1="51.8" x2="397.6" y2="51.8" class="ax"/>
<text x="385.5" y="55.2" class="tl">-10</text>
<line x1="393.6" y1="67.4" x2="397.6" y2="67.4" class="ax"/>
<text x="385.5" y="70.8" class="tl">-15</text>
<line x1="393.6" y1="83" x2="397.6" y2="83" class="ax"/>
<text x="385.5" y="86.4" class="tl">-20</text>
<line x1="393.6" y1="98.5" x2="397.6" y2="98.5" class="ax"/>
<text x="385.5" y="101.9" class="tl">-25</text>
<line x1="393.6" y1="114.1" x2="397.6" y2="114.1" class="ax"/>
<text x="385.5" y="117.5" class="tl">-30</text>
<line x1="393.6" y1="129.7" x2="397.6" y2="129.7" class="ax"/>
<text x="385.5" y="133.1" class="tl">-35</text>
<line x1="393.6" y1="145.3" x2="397.6" y2="145.3" class="ax"/>
<text x="385.5" y="148.7" class="tl">-40</text>
<line x1="393.6" y1="160.8" x2="397.6" y2="160.8" class="ax"/>
<text x="385.5" y="164.2" class="tl">-45</text>
<line x1="393.6" y1="176.4" x2="397.6" y2="176.4" class="ax"/>
<text x="385.5" y="179.8" class="tl">-50</text>
<line x1="397.6" y1="176.4" x2="681.8" y2="176.4" class="ax"/>
<path d="M397.5 176.4v4.5M401.5 176.4v4.5M405.5 176.4v4.5M409.5 176.4v4.5M413.5 176.4v4.5M417.5 176.4v4.5M420.5 176.4v4.5M424.5 176.4v4.5M428.5 176.4v4.5M432.5 176.4v4.5M436.5 176.4v4.5M440.5 176.4v4.5M444.5 176.4v4.5M448.5 176.4v4.5M452.5 176.4v4.5M455.5 176.4v4.5M459.5 176.4v4.5M463.5 176.4v4.5M467.5 176.4v4.5M471.5 176.4v4.5M475.5 176.4v4.5M479.5 176.4v4.5M483.5 176.4v4.5M487.5 176.4v4.5M491.5 176.4v4.5M494.5 176.4v4.5M498.5 176.4v4.5M502.5 176.4v4.5M506.5 176.4v4.5M510.5 176.4v4.5M514.5 176.4v4.5M518.5 176.4v4.5M522.5 176.4v4.5M526.5 176.4v4.5M529.5 176.4v4.5M533.5 176.4v4.5M537.5 176.4v4.5M541.5 176.4v4.5M545.5 176.4v4.5M549.5 176.4v4.5M553.5 176.4v4.5M557.5 176.4v4.5M561.5 176.4v4.5M565.5 176.4v4.5M568.5 176.4v4.5M572.5 176.4v4.5M576.5 176.4v4.5M580.5 176.4v4.5M584.5 176.4v4.5M588.5 176.4v4.5M592.5 176.4v4.5M596.5 176.4v4.5M600.5 176.4v4.5M603.5 176.4v4.5M607.5 176.4v4.5M611.5 176.4v4.5M615.5 176.4v4.5M619.5 176.4v4.5M623.5 176.4v4.5M627.5 176.4v4.5M631.5 176.4v4.5M635.5 176.4v4.5M638.5 176.4v4.5M642.5 176.4v4.5M646.5 176.4v4.5M650.5 176.4v4.5M654.5 176.4v4.5M658.5 176.4v4.5M662.5 176.4v4.5M666.5 176.4v4.5M670.5 176.4v4.5M674.5 176.4v4.5M677.5 176.4v4.5M681.5 176.4v4.5" class="tk"/>
<text transform="translate(402.3,183.9) rotate(-90)" class="ml">1 Aug</text>
<text transform="translate(426.4,183.9) rotate(-90)" class="ml">1 Sep</text>
<text transform="translate(449.8,183.9) rotate(-90)" class="ml">1 Oct</text>
<text transform="translate(473.9,183.9) rotate(-90)" class="ml">1 Nov</text>
<text transform="translate(497.3,183.9) rotate(-90)" class="ml">1 Dec</text>
<text transform="translate(521.4,183.9) rotate(-90)" class="ml">1 Jan</text>
<text transform="translate(545.6,183.9) rotate(-90)" class="ml">1 Feb</text>
<text transform="translate(567.4,183.9) rotate(-90)" class="ml">1 Mar</text>
<text transform="translate(591.5,183.9) rotate(-90)" class="ml">1 Apr</text>
<text transform="translate(614.9,183.9) rotate(-90)" class="ml">1 May</text>
<text transform="translate(639,183.9) rotate(-90)" class="ml">1 Jun</text>
<text transform="translate(662.4,183.9) rotate(-90)" class="ml">1 Jul</text>
<text transform="translate(360.6,85.8) rotate(-90)" class="yt">Air tempearture (°C)</text>
<line x1="434.3" y1="223.6" x2="461.7" y2="223.6" class="rl"/>
<text x="465.1" y="228" class="lg" textLength="140.4" lengthAdjust="spacingAndGlyphs">Teplitz Bay 1903-1904</text>
<line x1="48.5" y1="243.7" x2="334.5" y2="243.7" class="g"/>
<line x1="48.5" y1="259.2" x2="334.5" y2="259.2" class="g"/>
<line x1="48.5" y1="274.7" x2="334.5" y2="274.7" class="g"/>
<line x1="48.5" y1="290.3" x2="334.5" y2="290.3" class="g"/>
<line x1="48.5" y1="305.8" x2="334.5" y2="305.8" class="g"/>
<line x1="48.5" y1="321.3" x2="334.5" y2="321.3" class="g"/>
<line x1="48.5" y1="336.8" x2="334.5" y2="336.8" class="g"/>
<line x1="48.5" y1="352.3" x2="334.5" y2="352.3" class="g"/>
<line x1="48.5" y1="367.8" x2="334.5" y2="367.8" class="g"/>
<line x1="48.5" y1="383.4" x2="334.5" y2="383.4" class="g"/>
<line x1="48.5" y1="398.9" x2="334.5" y2="398.9" class="g"/>
<polyline class="m" points="48.9,256 49.7,256 50.5,256.6 51.3,257.4 52.1,257.2 52.8,257.3 53.6,257.9 54.4,258.1 55.2,258.2 56,258.8 56.8,258.1 57.5,258.1 58.3,258.7 59.1,258.6 59.9,260 60.7,260.2 61.5,260.4 62.3,259.5 63,260.8 63.8,260 64.6,260 65.4,260.4 66.2,260.3 67,261.3 67.7,262 68.5,261.3 69.3,262.5 70.1,262.5 70.9,263 71.7,262.3 72.4,262.5 73.2,263.2 74,262.7 74.8,263 75.6,263.1 76.4,263.1 77.1,263.2 77.9,262.9 78.7,263.1 79.5,263.5 80.3,263.2 81.1,264.1 81.8,264 82.6,264.3 83.4,264.2 84.2,265.4 85,265.1 85.8,266.5 86.5,267.5 87.3,268.9 88.1,269.8 88.9,271.3 89.7,272.7 90.5,273.4 91.2,273.6 92,274.1 92.8,273.5 93.6,273.8 94.4,274.6 95.2,275.4 95.9,276.3 96.7,276.5 97.5,276.5 98.3,276.2 99.1,277.6 99.9,279.3 100.6,280.1 101.4,281.4 102.2,282.4 103,282.7 103.8,283.3 104.6,283 105.3,285.2 106.1,285 106.9,285.2 107.7,287.2 108.5,286.9 109.3,288.8 110,291.2 110.8,292.3 111.6,294.2 112.4,296.1 113.2,298 114,299.6 114.7,301.2 115.5,304.3 116.3,305 117.1,307.9 117.9,307.2 118.7,307.7 119.4,308.7 120.2,308.8 121,308.4 121.8,309.7 122.6,309.6 123.4,309.3 124.1,308.3 124.9,307.5 125.7,304.5 126.5,307.1 127.3,306.5 128.1,306.8 128.8,309 129.6,310.4 130.4,311.4 131.2,310.7 132,310.4 132.8,311.8 133.5,312.4 134.3,313.5 135.1,313.3 135.9,317.1 136.7,315 137.5,315.3 138.2,317 139,313.7 139.8,318.6 140.6,319.2 141.4,320.2 142.2,318.4 142.9,321.3 143.7,320.4 144.5,321.3 145.3,322.6 146.1,325.3 146.9,325.4 147.6,323.6 148.4,327.3 149.2,327 150,326.1 150.8,324.7 151.6,325 152.3,324.3 153.1,326.5 153.9,324.8 154.7,325.7 155.5,328.6 156.3,325.8 157,325.6 157.8,329.6 158.6,329.4 159.4,328.6 160.2,332.2 161,332.9 161.7,332.1 162.5,331.4 163.3,331.8 164.1,331 164.9,331.6 165.7,333 166.4,330.6 167.2,328.7 168,328.9 168.8,328.5 169.6,328.9 170.4,327.4 171.2,329.6 171.9,328.3 172.7,330 173.5,329.2 174.3,330.3 175.1,332.1 175.9,331 176.6,329.9 177.4,332.4 178.2,331.6 179,331.2 179.8,331.2 180.6,327.6 181.3,326.4 182.1,326.6 182.9,327 183.7,327.2 184.5,327.1 185.3,328.8 186,328.1 186.8,328.8 187.6,329.4 188.4,331 189.2,329.9 190,329.7 190.7,327.6 191.5,330.1 192.3,333.3 193.1,331.3 193.9,329.6 194.7,330.3 195.4,328.7 196.2,327.5 197,327.3 197.8,325 198.6,323.1 199.4,322 200.1,322.8 200.9,324.3 201.7,327.3 202.5,327.4 203.3,329.7 204.1,330.8 204.8,330 205.6,332.8 206.4,335.1 207.2,334.7 208,334.2 208.8,337.3 209.5,335.6 210.3,335.6 211.1,336.5 211.9,336 212.7,334.2 213.5,333.5 214.2,331 215,331.7 215.8,333.7 216.6,333 217.4,331.4 218.2,329.9 218.9,331.1 219.7,330.7 220.5,328.5 221.3,330.2 222.1,330.5 222.9,331.9 223.6,331.1 224.4,328.2 225.2,331.9 226,330.3 226.8,331.9 227.6,330.3 228.3,329.4 229.1,330.5 229.9,329.2 230.7,329.1 231.5,329.4 232.3,328.1 233,329.4 233.8,330.8 234.6,331.3 235.4,331.4 236.2,330.1 237,331.2 237.7,328.9 238.5,329.8 239.3,332.4 240.1,332.8 240.9,330.3 241.7,333.1 242.4,330.1 243.2,327 244,327.8 244.8,326.3 245.6,325.1 246.4,323 247.1,322.6 247.9,321.5 248.7,320.4 249.5,320.2 250.3,318.3 251.1,319.8 251.8,320.3 252.6,320.1 253.4,318.3 254.2,314.3 255,309.6 255.8,308.5 256.5,308.4 257.3,308.2 258.1,307.1 258.9,306.2 259.7,305.4 260.5,305.2 261.2,303.1 262,300.4 262.8,302.5 263.6,299.5 264.4,300.2 265.2,297.2 265.9,297.3 266.7,297.4 267.5,294.1 268.3,291 269.1,290.8 269.9,288.6 270.6,288.6 271.4,289.7 272.2,287 273,287.1 273.8,287.3 274.6,285.2 275.3,285.4 276.1,285.8 276.9,284.5 277.7,285.2 278.5,283.3 279.3,283.4 280.1,281.2 280.8,281.2 281.6,278.4 282.4,278.4 283.2,276.8 284,277.4 284.8,276.6 285.5,275.2 286.3,276.4 287.1,275.2 287.9,273.5 288.7,273.1 289.5,272.1 290.2,272 291,270.8 291.8,270.8 292.6,270.4 293.4,269.7 294.2,268 294.9,266.6 295.7,265.3 296.5,264.7 297.3,263.7 298.1,262.5 298.9,261.6 299.6,261.5 300.4,261.5 301.2,261.9 302,260.2 302.8,261.1 303.6,259.7 304.3,259.6 305.1,259.9 305.9,260.2 306.7,259.9 307.5,260.2 308.3,259.4 309,259.3 309.8,258.7 310.6,258.3 311.4,257.7 312.2,258.4 313,257.8 313.7,258.3 314.5,258.3 315.3,258 316.1,257.9 316.9,257 317.7,256.8 318.4,256.5 319.2,256.9 320,256.8 320.8,257.1 321.6,257.2 322.4,256.5 323.1,256.4 323.9,256.9 324.7,256.2 325.5,256.9 326.3,256.2 327.1,256.3 327.8,256.2 328.6,256.3 329.4,255.4 330.2,255.5 331,255.3 331.8,255.8 332.5,256.5 333.3,256.3 334.1,256.6"/>
<polyline class="r" points="86.1,266 86.5,269.4 87.3,268.3 88.1,272.7 88.5,271.9 88.9,277.5 89.7,282.6 90.2,298.6 90.5,295.6 91.2,285.4 92,273.6 92.1,274.4 92.8,279.8 93.6,289.5 94.1,289 94.4,284.7 95.2,278.6 95.8,279.4 95.9,278.3 96.7,300.6 97.5,303.6 97.5,306.1 98.3,291.6 99.1,285.2 99.4,284 99.9,281.6 100.6,290.7 101.3,296.5 101.4,294.1 102.2,289.9 103,292.5 103,286.5 103.8,301 104.6,303.6 104.7,301.1 105.3,298.8 106.1,280.7 106.7,279.4 106.9,277.8 107.7,279.2 108.5,288.9 108.6,291.5 109.3,300 110,320.7 110.3,318.2 110.8,321.7 111.6,322.8 112,320.4 112.4,316.7 113.2,312.1 113.9,306.1 114,303.6 114.7,308.7 115.5,310.4 115.9,322.8 116.3,318.4 117.1,295.9 117.6,294 117.9,291.5 118.7,295 119.3,315.7 119.4,313.2 120.2,342.4 121,336.1 121.2,339.9 121.8,342.4 122.6,331.3 123.2,330.3 123.4,327.8 124.1,333.7 124.8,344.6 124.9,344.4 125.7,342.1 126.5,349.7 126.5,352 127.3,354.5 128.1,338.3 128.5,337.4 128.8,341.1 129.6,334.9 130.4,344.6 130.4,337 131.2,344.8 132,331.9 132.1,327.8 132.8,312.8 133.5,286.5 133.8,289 134.3,287.1 135.1,314.1 135.8,320.4 135.9,323.2 136.7,334.9 137.5,334.9 137.7,332.5 138.2,329.2 139,310.8 139.4,308.6 139.8,301.4 140.6,277.1 141.1,271.9 141.4,269 142.2,259.8 142.5,262.3 142.9,267.4 143.7,281.9 144.2,279.4 144.5,293 145.3,310.4 145.9,308.6 146.1,310.1 146.9,317.7 147.6,325.5 147.9,325.3 148.4,316.6 149.2,294.7 149.8,296.5 150,298.9 150.8,283.2 151.5,284 151.6,290.1 152.3,307 153.1,311 153.2,308.6 153.9,311 154.7,310 155.2,296.5 155.5,298.9 156.3,281.3 157,286.5 157.3,282.5 157.8,289.6 158.6,318.8 159.2,316.3 159.4,318.8 160.2,318.8 161,299.9 161.2,302.4 161.7,306.2 162.5,335.1 163.3,335.9 163.5,333.4 164.1,330.2 164.9,319.7 165.7,323.2 165.7,322.2 166.4,342.7 167.2,339.1 167.7,341.8 168,338.4 168.8,335.9 169.6,333.2 169.7,330.6 170.4,338.2 171.2,331.5 171.9,334.9 172,344.6 172.7,339.6 173.5,322.5 174.2,325 174.3,328.4 175.1,333.9 175.9,350.2 176.2,353.3 176.6,354.5 177.4,348.6 178.2,330.6 178.2,338.6 179,353.4 179.8,358.5 180.4,367.2 180.6,369.8 181.3,377.5 181.9,378.4 182.1,361.9 182.9,367.5 183.3,358.8 183.7,369 184.5,365.6 185.3,375.1 185.5,372.8 186,359.8 186.8,363.2 187.5,344.6 187.6,342.1 188.4,349.6 189.2,345.6 189.5,353.3 190,343.9 190.7,342 191.5,333.8 191.7,330.6 192.3,322 193.1,327.7 193.9,313.8 194,316.3 194.7,308.3 195.4,308.3 196,310.7 196.2,322.3 197,331.8 197.8,330.2 198,333.4 198.6,338.1 199.4,340.3 200.1,341.5 200.2,339 200.9,319.7 201.7,329.8 202.5,324.6 202.5,322.2 203.3,337.4 204.1,352.9 204.5,350.5 204.8,349.4 205.6,330.9 206.4,333.4 206.4,330.9 207.2,338.7 208,354 208.7,367.2 208.8,359.2 209.5,357.4 210.3,365.8 211,344.6 211.1,342.4 211.9,327.9 212.7,323.1 213,325 213.5,326.8 214.2,336.4 214.9,336.2 215,323.7 215.8,330.5 216.6,322.5 217.2,325 217.4,329.7 218.2,336 218.9,338 219.5,353.3 219.7,344.3 220.5,349.5 221.3,342 221.4,330.6 222.1,331.9 222.9,327.2 223.6,313.8 224.3,316.3 224.4,313.5 225.2,318.8 226,318.4 226.8,318.8 227.3,314.8 227.6,317.3 228.3,303.9 229.1,305.3 229.2,306.4 229.9,323 230.7,320.4 231.2,323.5 231.5,329 232.3,336.9 232.9,348.6 233,339.2 233.8,347.9 234.6,322.2 234.9,320.7 235.4,335.9 236.2,328.5 236.9,337.4 237,334.9 237.7,345.5 238.5,335.1 239.1,343 239.3,343.2 240.1,332.2 240.9,340.2 241.4,334.6 241.7,342.9 242.4,342.4 243.2,354.2 243.4,351.7 244,358 244.8,360.1 245.4,365.7 245.6,334.5 246.4,312.4 247,275.4 247.1,278.2 247.9,286.8 248.7,289 249,286.5 249.5,289 250.3,275.8 251,274.1 251.1,271.6 251.8,288.9 252.6,287.7 253.3,289.6 253.4,292.1 254.2,284.1 255,279.2 255.5,278.2 255.8,275.7 256.5,288.5 257.3,295.7 257.5,303.6 258.1,306.1 258.9,306.1 259.5,292.4 259.7,290 260.5,299.7 261.2,308.9 261.7,306.4 262,308.9 262.8,298.4 263.6,300.8 264,295.2 264.4,292.7 265.2,298.3 265.9,298.2 266,298 266.7,306.1 267.5,306.1 268,303.6 268.3,306.9 269.1,311.7 269.7,309.2 269.9,311.4 270.6,295.8 271.4,295.3 271.6,292.4 272.2,288.1 273,280.4 273.6,275.4 273.8,272.9 274.6,277.5 275.3,279.2 275.9,280.9 276.1,283.4 276.9,281.4 277.7,277.8 278.1,278.2 278.5,269.8 279.3,275 280,272.3 280.1,269.8 280.8,273.9 281.6,270.4 282.4,276.9 283,274.4 283.2,273.7 284,272.4 284.8,275.3 285.5,274.3 286.1,268.2 286.3,269 287.1,270.7 287.9,264.5 288.7,263.1 289.1,263.3 289.5,260.8 290.2,265.2 291,265.7 291.8,272.5 292.1,270.1 292.6,268.5 293.4,265.7 294.2,263 294.9,263.7 295.2,261.1 295.7,262.6 296.5,263.1 297.3,270.4 298.1,269.7 298.2,270.1 298.9,268.2 299.6,268.7 300.4,266.5 301.2,266.4 301.2,267.5 302,264.2 302.8,263.3 303.6,262.3 304.2,260.1 304.3,262.2 305.1,259.8 305.9,262.6 306.7,259.3 307.3,262.3 307.5,261.2 308.3,260.4 309,259.7 309.3,256.1 309.8,256.3 310.6,255.8 311.4,256.8 312.2,256.8 312.3,258 313,259.8 313.7,259.6 314.5,258.5 315.3,262.6 315.4,260.1 316.1,259.6 316.9,257.4 317.7,257.6 318.4,257 318.4,256.7 319.2,258.2 320,258.1 320.8,259.3 321.6,258.5 322.4,261.7 322.4,260.1 323.1,259.3 323.9,256.3 324.7,256.9 325.5,259.6 326.3,253.9 326.5,255.2 327.1,255.6 327.8,257.1 328.6,256.8 329.4,258.6 329.5,258 330.2,256.6 331,253 331.5,251.1 331.8,251 332.5,254.2 333.3,253.1 334.1,256.7 334.5,254.6"/>
<polyline class="s1" points="48.9,252.5 49.7,254.1 50.5,254.2 51.3,254.8 52.1,253.1 52.8,253.5 53.6,252.2 54.4,253.7 55.2,255.1 56,254.6 56.8,254.9 57.5,255.2 58.3,252.6 59.1,253.3 59.9,255.8 60.7,252.9 61.5,255.2 62.3,257.2 63,256.2 63.8,256.7 64.6,257 65.4,257.6 66.2,255.1 67,254.8 67.7,257.8 68.5,255.2 69.3,255.6 70.1,257.1 70.9,256.7 71.7,257.1 72.4,257.7 73.2,257.2 74,255.6 74.8,258.9 75.6,257 76.4,256.9 77.1,257.7 77.9,257.4 78.7,258.5 79.5,258 80.3,257 81.1,256.6 81.8,257.9 82.6,253.9 83.4,257 84.2,256.4 85,257 85.8,257.9 86.5,256.6 87.3,259.9 88.1,257.7 88.9,258.4 89.7,262.5 90.5,259.8 91.2,263.7 92,259.9 92.8,265.3 93.6,266.4 94.4,267.7 95.2,266.1 95.9,264.7 96.7,266.2 97.5,267.8 98.3,267.9 99.1,267.9 99.9,265 100.6,271.9 101.4,269.5 102.2,270.8 103,272.9 103.8,273.4 104.6,273.7 105.3,270.8 106.1,274.1 106.9,276 107.7,273.8 108.5,275.1 109.3,276.5 110,275 110.8,279 111.6,275.5 112.4,277.3 113.2,281.5 114,285.6 114.7,277.6 115.5,283.8 116.3,277.9 117.1,290 117.9,286.1 118.7,291.7 119.4,288.9 120.2,285.4 121,289.6 121.8,285.1 122.6,283.5 123.4,283.8 124.1,282 124.9,281.1 125.7,283.1 126.5,286.5 127.3,290 128.1,293.9 128.8,293.2 129.6,292.4 130.4,287.2 131.2,289.8 132,291.6 132.8,283.4 133.5,288.1 134.3,288.1 135.1,286.4 135.9,283.9 136.7,294 137.5,290.9 138.2,287.9 139,292.4 139.8,296.9 140.6,297.4 141.4,290.9 142.2,297.4 142.9,292.2 143.7,291.1 144.5,295.4 145.3,292.3 146.1,295.9 146.9,296.7 147.6,299.1 148.4,292.8 149.2,299.1 150,301.3 150.8,304.5 151.6,294 152.3,298.2 153.1,301.6 153.9,303.5 154.7,306.1 155.5,298.6 156.3,298.2 157,304.8 157.8,296.1 158.6,298.9 159.4,306.5 160.2,305.7 161,305.5 161.7,303.1 162.5,303.8 163.3,309.1 164.1,297.8 164.9,303.3 165.7,301.5 166.4,303.3 167.2,309.9 168,307.9 168.8,305.7 169.6,304.1 170.4,305.9 171.2,306 171.9,302.5 172.7,305.2 173.5,304.3 174.3,310 175.1,301.7 175.9,304.9 176.6,301.9 177.4,299 178.2,297.1 179,290.7 179.8,296.3 180.6,301.6 181.3,295.4 182.1,298.4 182.9,295.4 183.7,299.9 184.5,300 185.3,298.9 186,299.3 186.8,304.5 187.6,301.8 188.4,300.9 189.2,297.3 190,302.8 190.7,302.4 191.5,297.8 192.3,296.7 193.1,291.4 193.9,294.3 194.7,296.4 195.4,291.7 196.2,291.3 197,298.7 197.8,295.8 198.6,301.9 199.4,296.5 200.1,298.4 200.9,296.8 201.7,299.4 202.5,299.7 203.3,299.9 204.1,297.1 204.8,296.9 205.6,299.2 206.4,301.7 207.2,292.5 208,292.2 208.8,299.5 209.5,296.1 210.3,304.1 211.1,304.2 211.9,299.5 212.7,293.4 213.5,303.9 214.2,304.8 215,297.7 215.8,312.2 216.6,303.7 217.4,304.8 218.2,307.6 218.9,305.9 219.7,297 220.5,306.8 221.3,300.6 222.1,298.9 222.9,299.5 223.6,300.9 224.4,291.3 225.2,298.4 226,307.4 226.8,304.7 227.6,300.9 228.3,301.5 229.1,308.4 229.9,303 230.7,301.7 231.5,302 232.3,304.2 233,315.6 233.8,304.9 234.6,312.6 235.4,306.6 236.2,304.4 237,313 237.7,317.6 238.5,310.7 239.3,315.1 240.1,315.7 240.9,316.2 241.7,303.7 242.4,309.6 243.2,311.9 244,307.9 244.8,310.1 245.6,304.3 246.4,305.4 247.1,306.8 247.9,299.6 248.7,303.3 249.5,297.5 250.3,294.8 251.1,300.3 251.8,300.9 252.6,296.2 253.4,290.9 254.2,291.6 255,289 255.8,288.5 256.5,286.8 257.3,285.4 258.1,290 258.9,289 259.7,287.1 260.5,290.1 261.2,288.1 262,287.7 262.8,290.5 263.6,291.8 264.4,291.8 265.2,283.2 265.9,285.4 266.7,289.3 267.5,285.6 268.3,275.2 269.1,274.7 269.9,278.1 270.6,275.7 271.4,283.7 272.2,280.7 273,279.2 273.8,285.4 274.6,280.9 275.3,274.8 276.1,272.1 276.9,275.1 277.7,272.3 278.5,268.7 279.3,273 280.1,274.9 280.8,271.9 281.6,272.4 282.4,268.2 283.2,269.8 284,271 284.8,264.7 285.5,269.8 286.3,268.2 287.1,268.1 287.9,268 288.7,268.5 289.5,266.7 290.2,266.3 291,267.3 291.8,264.6 292.6,264.1 293.4,263.7 294.2,262.8 294.9,263.2 295.7,260.1 296.5,259.2 297.3,262.8 298.1,260 298.9,260.6 299.6,262.1 300.4,259 301.2,259.7 302,259 302.8,258.8 303.6,256.5 304.3,255.9 305.1,256.5 305.9,255.5 306.7,256 307.5,255.8 308.3,257 309,256.4 309.8,257.1 310.6,255.4 311.4,254.1 312.2,254 313,252.7 313.7,251.5 314.5,256 315.3,254 316.1,254.8 316.9,254.7 317.7,255.5 318.4,253.7 319.2,253.9 320,254.5 320.8,254.6 321.6,255.5 322.4,257.6 323.1,254.3 323.9,255.7 324.7,256.3 325.5,254.7 326.3,255.7 327.1,257.5 327.8,254.6 328.6,258 329.4,256.8 330.2,256.4 331,255 331.8,254.8 332.5,255.6 333.3,256.3 334.1,255.6"/>
<polyline class="s1" points="48.9,258 49.7,259.4 50.5,261.3 51.3,264 52.1,262 52.8,261.5 53.6,262.1 54.4,261.6 55.2,262.7 56,262.6 56.8,263.4 57.5,261.1 58.3,262.8 59.1,263.8 59.9,265 60.7,263.8 61.5,262.3 62.3,263.7 63,265.5 63.8,263.7 64.6,264 65.4,264.7 66.2,265.1 67,265.1 67.7,266.4 68.5,267 69.3,269.6 70.1,267.9 70.9,269.8 71.7,268.2 72.4,272.9 73.2,270.2 74,270.2 74.8,271.9 75.6,271.1 76.4,270.6 77.1,270.6 77.9,271.9 78.7,271.8 79.5,271.1 80.3,271.4 81.1,273.3 81.8,273.9 82.6,274.3 83.4,274 84.2,277.6 85,279.1 85.8,278.4 86.5,281.3 87.3,281.9 88.1,282.3 88.9,283 89.7,286.9 90.5,285.1 91.2,290.7 92,287.7 92.8,292.5 93.6,293.1 94.4,290.9 95.2,294 95.9,295.7 96.7,295.8 97.5,294.9 98.3,297.1 99.1,298.3 99.9,297.1 100.6,302 101.4,302.7 102.2,303.8 103,300.5 103.8,300.8 104.6,300.1 105.3,303.9 106.1,305.9 106.9,305.7 107.7,311.6 108.5,311.1 109.3,313.8 110,320.1 110.8,320.4 111.6,322.2 112.4,317.7 113.2,317.5 114,326.7 114.7,327.8 115.5,336.3 116.3,327.5 117.1,327.6 117.9,331.4 118.7,325.2 119.4,335.2 120.2,331.4 121,331 121.8,337 122.6,329.7 123.4,328.9 124.1,337.2 124.9,335.9 125.7,327.8 126.5,330.6 127.3,335.4 128.1,334 128.8,336.5 129.6,339 130.4,336.6 131.2,338.3 132,332.8 132.8,333.9 133.5,336.7 134.3,335.9 135.1,335.2 135.9,336.6 136.7,342 137.5,332.3 138.2,333.9 139,327.6 139.8,333.5 140.6,332.3 141.4,333.4 142.2,329.1 142.9,336.7 143.7,340.5 144.5,339.7 145.3,343 146.1,340.9 146.9,342.1 147.6,342.2 148.4,337.5 149.2,347.2 150,345.9 150.8,346.5 151.6,342.8 152.3,350 153.1,349.8 153.9,349.5 154.7,348.9 155.5,351.4 156.3,352.4 157,353.1 157.8,347.9 158.6,345.3 159.4,351.1 160.2,353.4 161,354 161.7,360.2 162.5,358.5 163.3,358.7 164.1,356.6 164.9,357.5 165.7,361.1 166.4,351.5 167.2,348.4 168,354.7 168.8,351.5 169.6,351.9 170.4,350.6 171.2,359.9 171.9,348.7 172.7,356 173.5,348.3 174.3,351.3 175.1,352 175.9,350.9 176.6,347.2 177.4,354.5 178.2,353.4 179,354.1 179.8,358 180.6,345.6 181.3,348.2 182.1,350.5 182.9,346.1 183.7,354.4 184.5,352.7 185.3,347.2 186,350.4 186.8,362.2 187.6,361.9 188.4,357.2 189.2,349.4 190,355.8 190.7,356.4 191.5,355.2 192.3,362.4 193.1,358.9 193.9,356.3 194.7,356.1 195.4,354.8 196.2,357.4 197,353 197.8,357.1 198.6,352.3 199.4,351.1 200.1,363.9 200.9,370.4 201.7,364.1 202.5,360.4 203.3,356.6 204.1,355.5 204.8,362 205.6,362.3 206.4,355.1 207.2,364.4 208,356.4 208.8,361.2 209.5,357.6 210.3,358.2 211.1,358.6 211.9,359.4 212.7,366.7 213.5,361.7 214.2,361.6 215,358.8 215.8,353.8 216.6,358.8 217.4,360.6 218.2,361 218.9,359.6 219.7,355.7 220.5,361.7 221.3,354.5 222.1,357.7 222.9,359 223.6,362.2 224.4,355.3 225.2,352.7 226,361.3 226.8,350.1 227.6,348.4 228.3,353 229.1,351.5 229.9,344 230.7,346.9 231.5,354.7 232.3,351.4 233,351.3 233.8,350 234.6,356.3 235.4,344.4 236.2,349.1 237,345.7 237.7,346.3 238.5,342.2 239.3,346.7 240.1,348.9 240.9,344.4 241.7,341.3 242.4,347.7 243.2,341.4 244,345.6 244.8,348.5 245.6,340 246.4,346.7 247.1,337 247.9,339.5 248.7,333.4 249.5,338.1 250.3,335.2 251.1,327.1 251.8,329.2 252.6,328.3 253.4,328.4 254.2,323.4 255,328.8 255.8,326.2 256.5,321 257.3,322 258.1,320.2 258.9,317.1 259.7,316.9 260.5,316.7 261.2,309.2 262,310.2 262.8,307.8 263.6,310.1 264.4,309.9 265.2,311.7 265.9,307.7 266.7,312.9 267.5,308 268.3,303.1 269.1,298.9 269.9,298.6 270.6,301.6 271.4,296.4 272.2,299.1 273,294.8 273.8,297.5 274.6,295.1 275.3,291.2 276.1,293.5 276.9,289.2 277.7,293 278.5,293 279.3,287.9 280.1,285.5 280.8,288.7 281.6,285.2 282.4,286.4 283.2,282.3 284,279.4 284.8,281.3 285.5,282.1 286.3,283 287.1,278.6 287.9,276.6 288.7,275.8 289.5,275.7 290.2,277.9 291,272.9 291.8,275.8 292.6,275.9 293.4,274 294.2,277.2 294.9,273.5 295.7,272.5 296.5,270.2 297.3,267.4 298.1,266.7 298.9,268.1 299.6,265.8 300.4,265 301.2,265 302,266.6 302.8,267.1 303.6,264.9 304.3,265.2 305.1,265.3 305.9,266.6 306.7,262.1 307.5,265.8 308.3,263.4 309,260.4 309.8,262.5 310.6,261.6 311.4,262.7 312.2,259.7 313,262.4 313.7,260.6 314.5,260.7 315.3,261.9 316.1,259.5 316.9,261.6 317.7,260.5 318.4,259.8 319.2,260.4 320,259.8 320.8,259.4 321.6,260.7 322.4,260.8 323.1,260.8 323.9,260.8 324.7,260 325.5,261.6 326.3,261.1 327.1,261.5 327.8,262 328.6,260 329.4,261.9 330.2,260.6 331,258.8 331.8,261.3 332.5,259.8 333.3,261.1 334.1,259.6"/>
<polyline class="s2" points="48.9,248.7 49.7,250.1 50.5,251.4 51.3,251.9 52.1,248.1 52.8,250.2 53.6,247.7 54.4,253 55.2,252 56,251.4 56.8,252.2 57.5,251.2 58.3,251.4 59.1,252.4 59.9,254.5 60.7,253.4 61.5,250 62.3,251.6 63,250.9 63.8,253.7 64.6,253 65.4,253.5 66.2,251.1 67,250.9 67.7,249.9 68.5,248 69.3,251.8 70.1,250 70.9,253.2 71.7,249.6 72.4,251.6 73.2,251.2 74,251.2 74.8,249.5 75.6,251.9 76.4,252.3 77.1,252.8 77.9,250.1 78.7,251.4 79.5,251 80.3,250.6 81.1,249.8 81.8,252.1 82.6,249.9 83.4,248 84.2,252.8 85,247.9 85.8,246.2 86.5,250.4 87.3,247.9 88.1,251.1 88.9,247.6 89.7,249 90.5,248.1 91.2,251.1 92,251.1 92.8,250.3 93.6,250.6 94.4,249.9 95.2,248.4 95.9,249.9 96.7,247.1 97.5,245.2 98.3,251.2 99.1,245.9 99.9,249.2 100.6,252.2 101.4,255.6 102.2,256.1 103,257 103.8,253.9 104.6,256.2 105.3,247.2 106.1,251.3 106.9,246.7 107.7,246.6 108.5,255.7 109.3,250.3 110,247.4 110.8,257.9 111.6,257.4 112.4,263.2 113.2,264.2 114,267.3 114.7,270.2 115.5,265.2 116.3,263.5 117.1,266.5 117.9,259.5 118.7,261 119.4,262 120.2,267.1 121,254.4 121.8,255.8 122.6,270.6 123.4,266.5 124.1,264.7 124.9,259.2 125.7,258.1 126.5,264.6 127.3,262 128.1,260.2 128.8,269.3 129.6,262.1 130.4,266.9 131.2,265.9 132,268.2 132.8,274.1 133.5,273.5 134.3,268.2 135.1,266.2 135.9,265.6 136.7,258.3 137.5,264.7 138.2,268.8 139,265.6 139.8,265.3 140.6,265.4 141.4,260.2 142.2,263.4 142.9,262 143.7,264.8 144.5,269.4 145.3,266.1 146.1,274.5 146.9,275.2 147.6,282.5 148.4,277.8 149.2,278.1 150,272.6 150.8,264.1 151.6,261.1 152.3,266 153.1,271.3 153.9,268.9 154.7,272.6 155.5,276.8 156.3,274.2 157,274.2 157.8,275.1 158.6,266.3 159.4,275.3 160.2,276.4 161,272.7 161.7,280.2 162.5,283.7 163.3,284.2 164.1,280.5 164.9,283.3 165.7,287.1 166.4,294 167.2,296.9 168,283.9 168.8,286.4 169.6,277.6 170.4,283.4 171.2,280.1 171.9,278.7 172.7,271.7 173.5,286.3 174.3,271 175.1,281.1 175.9,275.6 176.6,272.5 177.4,277.4 178.2,271.4 179,266 179.8,266.8 180.6,269.2 181.3,265.7 182.1,266.3 182.9,273.7 183.7,261.9 184.5,267.3 185.3,277.7 186,270.8 186.8,258.9 187.6,259.6 188.4,266.1 189.2,275.6 190,270.4 190.7,266.2 191.5,270.8 192.3,275.3 193.1,277.7 193.9,270.4 194.7,273.5 195.4,269.9 196.2,268.5 197,263.3 197.8,269.2 198.6,268.3 199.4,277.3 200.1,265.8 200.9,269.6 201.7,278 202.5,292.2 203.3,288.3 204.1,286.6 204.8,275.1 205.6,276.1 206.4,268.7 207.2,263.1 208,258.1 208.8,268.7 209.5,268.3 210.3,271.3 211.1,269.1 211.9,271.3 212.7,271.8 213.5,279.1 214.2,276.1 215,282.7 215.8,273.4 216.6,287.1 217.4,276 218.2,277.4 218.9,288 219.7,277.1 220.5,277.4 221.3,285.7 222.1,275.2 222.9,276.5 223.6,272.6 224.4,276.4 225.2,272.3 226,270.5 226.8,273.9 227.6,276.2 228.3,273.7 229.1,275.9 229.9,268.8 230.7,279.7 231.5,264.3 232.3,272.3 233,272.3 233.8,272.5 234.6,283.4 235.4,269.8 236.2,284.8 237,278.2 237.7,280 238.5,278 239.3,286.6 240.1,296.2 240.9,291.4 241.7,303.4 242.4,293.8 243.2,293.7 244,283.9 244.8,291.2 245.6,290.6 246.4,289.5 247.1,287.1 247.9,283.2 248.7,276.1 249.5,282.8 250.3,277.7 251.1,284.2 251.8,279.9 252.6,279.1 253.4,284.6 254.2,280.4 255,275.9 255.8,271.6 256.5,269.6 257.3,273.6 258.1,277.2 258.9,279.8 259.7,268.9 260.5,265.4 261.2,268.8 262,263.4 262.8,271.6 263.6,271.9 264.4,265.1 265.2,275.4 265.9,269.5 266.7,269.4 267.5,268.1 268.3,259.8 269.1,267.1 269.9,265.1 270.6,270 271.4,266.2 272.2,265.4 273,266.6 273.8,267 274.6,265.7 275.3,268.3 276.1,271.6 276.9,264.3 277.7,262.3 278.5,265.5 279.3,263.5 280.1,256.3 280.8,258.5 281.6,258.7 282.4,260 283.2,261.3 284,262.7 284.8,259.8 285.5,261.3 286.3,261.6 287.1,260.5 287.9,260.3 288.7,257.8 289.5,261 290.2,253.8 291,259.4 291.8,257.4 292.6,254.2 293.4,257.1 294.2,256.2 294.9,255.2 295.7,258.5 296.5,255.6 297.3,256 298.1,254.7 298.9,253.4 299.6,253 300.4,251.6 301.2,251.7 302,252.4 302.8,253.9 303.6,252.2 304.3,254.6 305.1,252.9 305.9,250.4 306.7,251 307.5,253.6 308.3,251.9 309,249.1 309.8,249 310.6,248 311.4,251.8 312.2,251 313,249.4 313.7,250.4 314.5,249.3 315.3,249.5 316.1,249.3 316.9,250 317.7,249 318.4,248.7 319.2,249.9 320,252.1 320.8,248.6 321.6,249.9 322.4,249.3 323.1,249.5 323.9,252.1 324.7,249.1 325.5,250.9 326.3,251.5 327.1,247.5 327.8,249.3 328.6,248.4 329.4,247.9 330.2,247.5 331,252.7 331.8,251.3 332.5,249.2 333.3,251 334.1,253.1"/>
<polyline class="s2" points="48.9,259.6 49.7,263.3 50.5,261.9 51.3,263.1 52.1,264 52.8,264.8 53.6,268.2 54.4,266.8 55.2,265.3 56,268.5 56.8,267.5 57.5,268.3 58.3,266.9 59.1,268.9 59.9,265.4 60.7,268.6 61.5,270.8 62.3,266.6 63,268 63.8,268.7 64.6,268.7 65.4,269.9 66.2,269.8 67,268.8 67.7,269 68.5,269.4 69.3,270.8 70.1,272 70.9,271.7 71.7,269.9 72.4,269.7 73.2,272.8 74,273.8 74.8,272.2 75.6,273.5 76.4,274.1 77.1,277.5 77.9,276.6 78.7,277 79.5,276.2 80.3,279.4 81.1,275.6 81.8,278.1 82.6,279.1 83.4,282.6 84.2,281.6 85,279.9 85.8,285.7 86.5,284.1 87.3,284.7 88.1,288.4 88.9,287.2 89.7,291.3 90.5,289.7 91.2,292.5 92,294.4 92.8,291.8 93.6,295.6 94.4,295.7 95.2,302.4 95.9,302.2 96.7,299.9 97.5,301.1 98.3,305.3 99.1,305.6 99.9,312.6 100.6,311.2 101.4,316.1 102.2,313.1 103,316.5 103.8,318.4 104.6,318 105.3,314.5 106.1,324.3 106.9,324.5 107.7,320.7 108.5,326.6 109.3,320.6 110,326.7 110.8,328.3 111.6,328.9 112.4,326.2 113.2,333.5 114,337.3 114.7,340.8 115.5,349.5 116.3,347.6 117.1,338.6 117.9,342.8 118.7,345.8 119.4,346.5 120.2,352.3 121,348.4 121.8,353.4 122.6,347.6 123.4,352.8 124.1,351.7 124.9,350.3 125.7,355.2 126.5,352.5 127.3,355 128.1,357.3 128.8,355.1 129.6,369.1 130.4,370.8 131.2,361.4 132,359.4 132.8,353.9 133.5,359 134.3,359 135.1,367.7 135.9,362.7 136.7,365.4 137.5,375 138.2,375.7 139,372.7 139.8,370.6 140.6,380.7 141.4,370.1 142.2,368.6 142.9,369.6 143.7,367 144.5,365.7 145.3,371.8 146.1,366 146.9,369.4 147.6,373.4 148.4,370.2 149.2,366.5 150,380.4 150.8,381.3 151.6,380.7 152.3,364.5 153.1,374.3 153.9,374.1 154.7,377.8 155.5,378.8 156.3,384.1 157,375.8 157.8,377.4 158.6,389.2 159.4,386.6 160.2,385.8 161,382.5 161.7,381.3 162.5,378 163.3,378.1 164.1,380.4 164.9,379.7 165.7,390.5 166.4,387.5 167.2,380.4 168,385.4 168.8,388.6 169.6,399.2 170.4,399.9 171.2,389 171.9,390.1 172.7,391.6 173.5,390.5 174.3,395.2 175.1,386.1 175.9,384.2 176.6,383 177.4,391.1 178.2,392.4 179,395.4 179.8,383.6 180.6,379.6 181.3,387.5 182.1,381.3 182.9,380.4 183.7,382.7 184.5,390.1 185.3,382.9 186,379.4 186.8,388.9 187.6,386.4 188.4,391.8 189.2,376 190,378.9 190.7,381 191.5,382.5 192.3,384.2 193.1,382 193.9,384 194.7,385.7 195.4,386.9 196.2,388.1 197,383.4 197.8,397.8 198.6,391.2 199.4,394.9 200.1,396.3 200.9,400.2 201.7,387.8 202.5,395.1 203.3,394.7 204.1,389.5 204.8,395.8 205.6,391 206.4,392.3 207.2,389.2 208,397.3 208.8,407.6 209.5,395.8 210.3,398.2 211.1,396.8 211.9,396.3 212.7,389.2 213.5,395.1 214.2,387.7 215,382.7 215.8,388.6 216.6,379.6 217.4,393 218.2,390.2 218.9,394.1 219.7,394.9 220.5,396.7 221.3,393.2 222.1,389.7 222.9,391.7 223.6,383.2 224.4,379.1 225.2,390.6 226,378.7 226.8,380.2 227.6,379 228.3,369.2 229.1,372 229.9,374.4 230.7,374.4 231.5,384.9 232.3,373 233,380.1 233.8,375.9 234.6,375.8 235.4,371.7 236.2,366.9 237,370.9 237.7,368.4 238.5,373.2 239.3,368.1 240.1,364.2 240.9,371.1 241.7,353.1 242.4,362.6 243.2,363.5 244,349.8 244.8,347.7 245.6,360.3 246.4,359.8 247.1,346.9 247.9,355 248.7,363.2 249.5,356.8 250.3,344.9 251.1,349.5 251.8,347.2 252.6,342.8 253.4,342.8 254.2,345 255,348.6 255.8,338.5 256.5,344.6 257.3,339.6 258.1,331.2 258.9,335.6 259.7,336.3 260.5,334.5 261.2,330 262,328.1 262.8,336.4 263.6,330.2 264.4,323.6 265.2,326 265.9,329.8 266.7,327.6 267.5,330.8 268.3,325 269.1,315.9 269.9,320.7 270.6,322.2 271.4,320 272.2,317.2 273,315.9 273.8,315.6 274.6,315.6 275.3,309.7 276.1,305.3 276.9,309.9 277.7,308.4 278.5,301.9 279.3,307.3 280.1,302.1 280.8,298.5 281.6,294 282.4,292.9 283.2,293.2 284,290.1 284.8,294 285.5,295.2 286.3,294.4 287.1,287 287.9,291.1 288.7,285.4 289.5,283.9 290.2,282.2 291,281.8 291.8,280.1 292.6,276.7 293.4,276.5 294.2,276.8 294.9,271.9 295.7,275.2 296.5,271.3 297.3,273.2 298.1,274.3 298.9,272.5 299.6,270.7 300.4,273.5 301.2,272 302,271.3 302.8,268.8 303.6,267.5 304.3,267 305.1,267 305.9,265.7 306.7,262.9 307.5,262.7 308.3,264 309,266.6 309.8,264.7 310.6,265.8 311.4,266.3 312.2,264.2 313,265.3 313.7,267.6 314.5,267.4 315.3,263.9 316.1,265.2 316.9,264.1 317.7,265.3 318.4,266.3 319.2,264.2 320,262 320.8,263.2 321.6,264.8 322.4,263.3 323.1,263.4 323.9,262.5 324.7,261.5 325.5,260.4 326.3,263.1 327.1,264.6 327.8,264.2 328.6,264.2 329.4,264.8 330.2,263.4 331,262.2 331.8,262.9 332.5,260.3 333.3,261.8 334.1,263.1"/>
<line x1="48.5" y1="243.7" x2="48.5" y2="414.4" class="ax"/>
<line x1="44.5" y1="243.7" x2="48.5" y2="243.7" class="ax"/>
<text x="36.4" y="247.1" class="tl">5</text>
<line x1="44.5" y1="259.2" x2="48.5" y2="259.2" class="ax"/>
<text x="36.4" y="262.6" class="tl">0</text>
<line x1="44.5" y1="274.7" x2="48.5" y2="274.7" class="ax"/>
<text x="36.4" y="278.1" class="tl">-5</text>
<line x1="44.5" y1="290.3" x2="48.5" y2="290.3" class="ax"/>
<text x="36.4" y="293.7" class="tl">-10</text>
<line x1="44.5" y1="305.8" x2="48.5" y2="305.8" class="ax"/>
<text x="36.4" y="309.2" class="tl">-15</text>
<line x1="44.5" y1="321.3" x2="48.5" y2="321.3" class="ax"/>
<text x="36.4" y="324.7" class="tl">-20</text>
<line x1="44.5" y1="336.8" x2="48.5" y2="336.8" class="ax"/>
<text x="36.4" y="340.2" class="tl">-25</text>
<line x1="44.5" y1="352.3" x2="48.5" y2="352.3" class="ax"/>
<text x="36.4" y="355.7" class="tl">-30</text>
<line x1="44.5" y1="367.8" x2="48.5" y2="367.8" class="ax"/>
<text x="36.4" y="371.2" class="tl">-35</text>
<line x1="44.5" y1="383.4" x2="48.5" y2="383.4" class="ax"/>
<text x="36.4" y="386.8" class="tl">-40</text>
<line x1="44.5" y1="398.9" x2="48.5" y2="398.9" class="ax"/>
<text x="36.4" y="402.3" class="tl">-45</text>
<line x1="44.5" y1="414.4" x2="48.5" y2="414.4" class="ax"/>
<text x="36.4" y="417.8" class="tl">-50</text>
<line x1="48.5" y1="414.4" x2="334.5" y2="414.4" class="ax"/>
<path d="M48.5 414.4v4.5M52.5 414.4v4.5M56.5 414.4v4.5M60.5 414.4v4.5M64.5 414.4v4.5M68.5 414.4v4.5M72.5 414.4v4.5M75.5 414.4v4.5M79.5 414.4v4.5M83.5 414.4v4.5M87.5 414.4v4.5M91.5 414.4v4.5M95.5 414.4v4.5M99.5 414.4v4.5M103.5 414.4v4.5M107.5 414.4v4.5M111.5 414.4v4.5M115.5 414.4v4.5M119.5 414.4v4.5M122.5 414.4v4.5M126.5 414.4v4.5M130.5 414.4v4.5M134.5 414.4v4.5M138.5 414.4v4.5M142.5 414.4v4.5M146.5 414.4v4.5M150.5 414.4v4.5M154.5 414.4v4.5M158.5 414.4v4.5M162.5 414.4v4.5M166.5 414.4v4.5M169.5 414.4v4.5M173.5 414.4v4.5M177.5 414.4v4.5M181.5 414.4v4.5M185.5 414.4v4.5M189.5 414.4v4.5M193.5 414.4v4.5M197.5 414.4v4.5M201.5 414.4v4.5M205.5 414.4v4.5M209.5 414.4v4.5M213.5 414.4v4.5M216.5 414.4v4.5M220.5 414.4v4.5M224.5 414.4v4.5M228.5 414.4v4.5M232.5 414.4v4.5M236.5 414.4v4.5M240.5 414.4v4.5M244.5 414.4v4.5M248.5 414.4v4.5M252.5 414.4v4.5M256.5 414.4v4.5M260.5 414.4v4.5M263.5 414.4v4.5M267.5 414.4v4.5M271.5 414.4v4.5M275.5 414.4v4.5M279.5 414.4v4.5M283.5 414.4v4.5M287.5 414.4v4.5M291.5 414.4v4.5M295.5 414.4v4.5M299.5 414.4v4.5M303.5 414.4v4.5M307.5 414.4v4.5M310.5 414.4v4.5M314.5 414.4v4.5M318.5 414.4v4.5M322.5 414.4v4.5M326.5 414.4v4.5M330.5 414.4v4.5M334.5 414.4v4.5" class="tk"/>
<text transform="translate(53.2,421.9) rotate(-90)" class="ml">1 Aug</text>
<text transform="translate(77.5,421.9) rotate(-90)" class="ml">1 Sep</text>
<text transform="translate(101,421.9) rotate(-90)" class="ml">1 Oct</text>
<text transform="translate(125.3,421.9) rotate(-90)" class="ml">1 Nov</text>
<text transform="translate(148.8,421.9) rotate(-90)" class="ml">1 Dec</text>
<text transform="translate(173.1,421.9) rotate(-90)" class="ml">1 Jan</text>
<text transform="translate(197.4,421.9) rotate(-90)" class="ml">1 Feb</text>
<text transform="translate(219.3,421.9) rotate(-90)" class="ml">1 Mar</text>
<text transform="translate(243.6,421.9) rotate(-90)" class="ml">1 Apr</text>
<text transform="translate(267.1,421.9) rotate(-90)" class="ml">1 May</text>
<text transform="translate(291.4,421.9) rotate(-90)" class="ml">1 Jun</text>
<text transform="translate(314.9,421.9) rotate(-90)" class="ml">1 Jul</text>
<text transform="translate(11.5,324) rotate(-90)" class="yt">Air tempearture (°C)</text>
<line x1="91.2" y1="464.3" x2="118.4" y2="464.3" class="rl"/>
<text x="122.3" y="468.6" class="lg" textLength="130.1" lengthAdjust="spacingAndGlyphs">Calm Bay 1913-1914</text>
<line x1="396.5" y1="243.5" x2="680.6" y2="243.5" class="g"/>
<line x1="396.5" y1="259" x2="680.6" y2="259" class="g"/>
<line x1="396.5" y1="274.6" x2="680.6" y2="274.6" class="g"/>
<line x1="396.5" y1="290.1" x2="680.6" y2="290.1" class="g"/>
<line x1="396.5" y1="305.6" x2="680.6" y2="305.6" class="g"/>
<line x1="396.5" y1="321.2" x2="680.6" y2="321.2" class="g"/>
<line x1="396.5" y1="336.7" x2="680.6" y2="336.7" class="g"/>
<line x1="396.5" y1="352.3" x2="680.6" y2="352.3" class="g"/>
<line x1="396.5" y1="367.8" x2="680.6" y2="367.8" class="g"/>
<line x1="396.5" y1="383.3" x2="680.6" y2="383.3" class="g"/>
<line x1="396.5" y1="398.9" x2="680.6" y2="398.9" class="g"/>
<polyline class="m" points="396.9,255.8 397.7,255.8 398.4,256.4 399.2,257.3 400,257 400.8,257.2 401.6,257.7 402.3,257.9 403.1,258 403.9,258.6 404.7,257.9 405.5,257.9 406.2,258.6 407,258.5 407.8,259.9 408.6,260 409.3,260.2 410.1,259.3 410.9,260.6 411.7,259.8 412.5,259.8 413.2,260.2 414,260.1 414.8,261.1 415.6,261.9 416.3,261.1 417.1,262.3 417.9,262.3 418.7,262.9 419.5,262.2 420.2,262.4 421,263 421.8,262.5 422.6,262.8 423.4,262.9 424.1,262.9 424.9,263 425.7,262.7 426.5,262.9 427.2,263.3 428,263 428.8,263.9 429.6,263.8 430.4,264.1 431.1,264 431.9,265.2 432.7,264.9 433.5,266.3 434.3,267.3 435,268.7 435.8,269.6 436.6,271.1 437.4,272.6 438.1,273.3 438.9,273.5 439.7,273.9 440.5,273.3 441.3,273.6 442,274.4 442.8,275.2 443.6,276.1 444.4,276.3 445.1,276.3 445.9,276.1 446.7,277.5 447.5,279.1 448.3,279.9 449,281.3 449.8,282.3 450.6,282.6 451.4,283.1 452.2,282.8 452.9,285 453.7,284.8 454.5,285.1 455.3,287.1 456,286.7 456.8,288.6 457.6,291.1 458.4,292.2 459.2,294 459.9,296 460.7,297.8 461.5,299.4 462.3,301.1 463,304.2 463.8,304.8 464.6,307.8 465.4,307.1 466.2,307.6 466.9,308.6 467.7,308.7 468.5,308.3 469.3,309.6 470.1,309.4 470.8,309.2 471.6,308.2 472.4,307.3 473.2,304.4 473.9,307 474.7,306.3 475.5,306.7 476.3,308.9 477.1,310.3 477.8,311.3 478.6,310.6 479.4,310.3 480.2,311.7 481,312.3 481.7,313.4 482.5,313.2 483.3,317 484.1,314.8 484.8,315.2 485.6,316.9 486.4,313.6 487.2,318.4 488,319.1 488.7,320.1 489.5,318.3 490.3,321.2 491.1,320.2 491.8,321.2 492.6,322.5 493.4,325.2 494.2,325.3 495,323.5 495.7,327.2 496.5,326.9 497.3,326 498.1,324.6 498.9,324.9 499.6,324.2 500.4,326.4 501.2,324.7 502,325.6 502.7,328.5 503.5,325.7 504.3,325.5 505.1,329.5 505.9,329.3 506.6,328.5 507.4,332.1 508.2,332.8 509,332 509.8,331.3 510.5,331.7 511.3,330.9 512.1,331.5 512.9,332.9 513.6,330.5 514.4,328.6 515.2,328.8 516,328.4 516.8,328.8 517.5,327.3 518.3,329.5 519.1,328.2 519.9,329.9 520.6,329.1 521.4,330.2 522.2,332.1 523,330.9 523.8,329.8 524.5,332.3 525.3,331.5 526.1,331.1 526.9,331.1 527.7,327.5 528.4,326.3 529.2,326.5 530,326.9 530.8,327.1 531.5,327 532.3,328.7 533.1,328 533.9,328.7 534.7,329.3 535.4,330.9 536.2,329.8 537,329.6 537.8,327.5 538.5,330 539.3,333.2 540.1,331.2 540.9,329.5 541.7,330.2 542.4,328.6 543.2,327.4 544,327.2 544.8,324.9 545.6,323 546.3,321.8 547.1,322.7 547.9,324.2 548.7,327.2 549.4,327.3 550.2,329.6 551,330.7 551.8,329.9 552.6,332.7 553.3,335 554.1,334.6 554.9,334.1 555.7,337.2 556.5,335.5 557.2,335.5 558,336.4 558.8,335.9 559.6,334.1 560.3,333.4 561.1,330.9 561.9,331.6 562.7,333.6 563.5,332.9 564.2,331.3 565,329.8 565.8,331 566.6,330.6 567.3,328.4 568.1,330.1 568.9,330.4 569.7,331.8 570.5,331 571.2,328.1 572,331.8 572.8,330.2 573.6,331.8 574.4,330.2 575.1,329.3 575.9,330.4 576.7,329.1 577.5,329 578.2,329.3 579,328 579.8,329.3 580.6,330.7 581.4,331.2 582.1,331.3 582.9,330 583.7,331.1 584.5,328.8 585.3,329.7 586,332.3 586.8,332.7 587.6,330.2 588.4,333 589.1,330 589.9,326.9 590.7,327.7 591.5,326.2 592.3,325 593,322.8 593.8,322.5 594.6,321.4 595.4,320.3 596.1,320.1 596.9,318.2 597.7,319.7 598.5,320.2 599.3,320 600,318.2 600.8,314.2 601.6,309.5 602.4,308.4 603.2,308.3 603.9,308.1 604.7,306.9 605.5,306.1 606.3,305.3 607,305.1 607.8,302.9 608.6,300.3 609.4,302.4 610.2,299.3 610.9,300.1 611.7,297.1 612.5,297.1 613.3,297.3 614.1,293.9 614.8,290.8 615.6,290.7 616.4,288.4 617.2,288.5 617.9,289.5 618.7,286.8 619.5,287 620.3,287.2 621.1,285 621.8,285.2 622.6,285.7 623.4,284.4 624.2,285.1 624.9,283.1 625.7,283.2 626.5,281 627.3,281 628.1,278.3 628.8,278.2 629.6,276.6 630.4,277.3 631.2,276.4 632,275 632.7,276.3 633.5,275 634.3,273.3 635.1,273 635.8,272 636.6,271.9 637.4,270.6 638.2,270.6 639,270.2 639.7,269.5 640.5,267.8 641.3,266.5 642.1,265.2 642.8,264.6 643.6,263.5 644.4,262.3 645.2,261.4 646,261.4 646.7,261.3 647.5,261.7 648.3,260 649.1,260.9 649.9,259.6 650.6,259.4 651.4,259.8 652.2,260 653,259.7 653.7,260 654.5,259.3 655.3,259.1 656.1,258.6 656.9,258.1 657.6,257.6 658.4,258.2 659.2,257.6 660,258.2 660.8,258.1 661.5,257.8 662.3,257.8 663.1,256.8 663.9,256.6 664.6,256.3 665.4,256.7 666.2,256.6 667,256.9 667.8,257 668.5,256.3 669.3,256.2 670.1,256.7 670.9,256 671.6,256.7 672.4,256 673.2,256.1 674,256 674.8,256.1 675.5,255.2 676.3,255.3 677.1,255.1 677.9,255.7 678.7,256.3 679.4,256.1 680.2,256.4"/>
<polyline class="r" points="396.6,257.2 396.9,257.8 397.7,254.1 398.4,255.1 399.1,254.7 399.2,253.2 400,255.6 400.8,258.3 401.5,258.4 401.6,260.4 402.3,259.3 403.1,257.7 403.9,255.3 403.9,255.9 404.7,256.6 405.5,255.4 406.2,259 406.3,259.7 407,253.2 407.8,242.9 408,242.6 408.6,247.5 409.3,253.3 409.5,254.7 410.1,257.7 410.9,260.7 411.2,261.8 411.7,261.9 412.5,258.7 413.2,256.8 413.6,257.2 414,261.3 414.8,263.3 415.6,263.7 416,266.8 416.3,265.3 417.1,264.5 417.9,258.5 418.5,259.7 418.7,260.5 419.5,260.3 420.2,263.9 420.9,264.3 421,264.6 421.8,268.6 422.6,270.5 422.6,271.8 423.4,268.6 424.1,262.7 424.5,259.7 424.9,262 425.7,270 426.5,273.2 426.5,274.3 427.2,270.2 428,268.6 428.2,266.8 428.8,276.8 429.4,286.4 429.6,282.7 430.4,275.5 431.1,272.2 431.3,269.3 431.9,275.7 432.7,278.6 433,281.4 433.5,274.3 434.3,272.4 434.7,266.8 435,266.6 435.8,267.3 436.6,260.6 436.6,263.1 437.4,270.4 438.1,275.2 438.6,278.9 438.9,278.6 439.7,291.4 440.3,298.5 440.5,296.7 441.3,282.7 442,264.3 442,265.2 442.8,269.6 443.6,273.8 443.9,276.4 444.4,277.5 445.1,277.2 445.8,286.4 445.9,286.4 446.7,291.4 447.5,292.6 447.5,296 448.3,278.9 449,278.9 449.2,281.4 449.8,288.1 450.6,281.8 451.2,288.9 451.4,298.2 452.2,290 452.9,301 453.1,303.5 453.7,296.5 454.5,292.4 454.8,288.9 455.3,277.8 456,289.8 456.5,276.4 456.8,275.5 457.6,267.8 458.4,266.8 458.5,269.3 459.2,269.6 459.9,264.3 460.4,266.8 460.7,264.9 461.5,274.2 462.1,276.4 462.3,274 463,280.3 463.8,288.9 463.8,291.5 464.6,294.5 465,292 465.4,291.5 466.2,264.3 466.4,266.8 466.9,286.6 467.7,306.3 467.8,306.3 468.5,281.2 469.2,266.8 469.3,269.3 470.1,269.3 470.7,260.9 470.8,258.4 471.6,266.2 472.4,266 472.9,263.7 473.2,261.2 473.9,269.8 474.7,272.1 474.9,269.6 475.5,275.6 476.3,287.4 476.9,286.4 477.1,286 477.8,288.9 478.6,288.9 479.1,283.6 479.4,281.1 480.2,291.7 481,281.1 481.4,289.2 481.7,298.5 482.5,299.1 483.3,300 483.4,300.7 484.1,310.2 484.8,320.6 485.4,323 485.6,318.4 486.4,305.8 487,306.3 487.2,308.8 488,291.1 488.7,284.9 489,283.6 489.5,275.5 490.3,284.5 491,278 491.1,294.5 491.8,292.4 492.6,286.2 492.7,292 493.4,299.3 494.2,303.9 494.7,311.9 495,309.4 495.7,311.5 496.5,320.5 496.7,323 497.3,327 498.1,321.2 498.9,320.6 498.9,328.9 499.6,309.1 500.3,278 500.4,275.9 501.2,269.9 501.7,272.4 502,269.9 502.7,279.8 503.2,283.6 503.5,286.1 504.3,275.4 504.6,269.6 505.1,267.1 505.9,284 506.6,281.7 506.8,292 507.4,303.9 508.2,313.5 508.8,334.5 509,316.3 509.8,336.5 510.5,314.4 510.8,314.7 511.3,304.8 512.1,294 512.9,288.8 513.1,283.6 513.6,282.5 514.4,277.6 515.2,271.2 515.3,272.4 516,272.7 516.8,269.9 517.3,278 517.5,281 518.3,283.5 519.1,279.3 519.3,289.2 519.9,283.2 520.6,281.7 521.4,276.8 521.5,278 522.2,284.7 523,300.8 523.8,308.8 523.8,306.3 524.5,303.8 525.3,318.2 525.8,334.5 526.1,333.3 526.9,330.1 527.7,326.9 527.8,320.2 528.4,333.1 529.2,330.3 530,344.2 530,348.5 530.8,351 531.5,349.1 532.3,340.1 532.3,337.7 533.1,347.8 533.9,341.6 534.3,354.1 534.7,348.8 535.4,348.8 535.7,351.3 536.2,347.1 537,345.2 537.6,320.2 537.8,314.8 538.5,306.4 539.2,283.6 539.3,276.5 540.1,282.4 540.9,269.9 541.2,272.4 541.7,267.1 542.4,274.9 542.9,269.6 543.2,276.6 544,288.4 544.8,308.8 544.9,306.3 545.6,285.8 546.3,281.2 546.9,272.4 547.1,280.5 547.9,269.9 548.7,280.4 549.1,278 549.4,274.9 550.2,267.1 550.5,269.6 551,270.1 551.8,271.9 552.5,272.4 552.6,274.9 553.3,269.6 554.1,267.1 554.2,269.6 554.9,271.9 555.7,294.1 556.2,306.3 556.5,326.7 557.2,338.4 557.6,345.7 558,348.2 558.8,334.2 559.6,344.2 559.9,334.5 560.3,345.4 561.1,345.4 561.9,342.9 561.9,345.4 562.7,324.1 563.5,325.4 563.8,323 564.2,316.5 565,315.5 565.5,317.5 565.8,326 566.6,334.2 567.3,342.6 567.5,340.1 568.1,339.5 568.9,349.2 569.5,348.5 569.7,339 570.5,323.4 571.2,332.8 571.7,325.8 572,323.4 572.8,326 573.6,342.6 574,340.1 574.4,345.6 575.1,357.3 575.9,356.6 576,356.9 576.7,358.4 577.5,359.2 578,348.5 578.2,334.6 579,343.5 579.7,334.5 579.8,335.8 580.6,337 581.4,326.5 581.6,328.9 582.1,332.7 582.9,333.2 583.6,340.1 583.7,342.6 584.5,335.1 585.3,336.1 585.9,334.5 586,332.1 586.8,332.1 587.6,342.6 588.1,340.1 588.4,332.5 589.1,332.1 589.9,333.6 590.1,334.5 590.7,327.5 591.5,321.1 591.5,323 592.3,283.3 593,260.9 593,266.2 593.8,266.2 594.4,263.7 594.6,261.2 595.4,268.9 595.8,278 596.1,278.3 596.9,286.1 597.7,275.5 597.8,283.6 598.5,286.1 599.3,283.5 600,278 600,291.2 600.8,286.8 601.6,293.7 602.3,306.3 602.4,308.8 603.2,301.9 603.9,281.1 604.3,283.6 604.7,287.4 605,316.5 605.5,319.9 606.3,314.4 607,328.6 607,329.6 607.8,317.3 608.6,296.3 608.6,290.7 609.4,297.4 610.1,284.2 610.2,290.7 610.9,304.4 611.5,306.6 611.7,302.8 612.5,296.2 613.1,294.5 613.3,293.4 614.1,295.4 614.7,300.4 614.8,302.8 615.6,300.6 616.1,288.2 616.4,285.8 617.2,298.8 617.5,296.3 617.9,298.8 618.7,296.5 619.1,292.3 619.5,294.6 620.3,293.6 620.8,300.4 621.1,301.1 621.8,292.7 622.2,282.3 622.6,277 623.4,265.6 623.6,268 624.2,276.2 624.9,277 625.2,282.3 625.7,279.8 626.5,277.3 626.8,274.3 627.3,271.8 628.1,280.8 628.2,278.3 628.8,278.7 629.6,270.2 629.6,270.7 630.4,276.7 631.2,276.7 631.3,274.3 632,267.7 632.7,265.6 633.3,268 633.5,266.6 634.3,272.7 635.1,268.1 635.3,270.2 635.8,265.4 636.6,269.1 637.3,264 637.4,266.4 638.2,267.4 639,263.1 639.3,266.2 639.7,262.4 640.5,262.7 641.3,258.3 641.4,260 642.1,257.9 642.8,258.1 643.6,258.9 644.4,258.1 644.4,257 645.2,261.2 646,257.3 646.7,258 647.4,260 647.5,262.5 648.3,261.4 649.1,258.3 649.9,257.4 650.5,255.9 650.6,256.7 651.4,254.3 652.2,253.4 652.5,251.9 653,249.6 653.5,243.8 653.7,246 654.5,254.1 654.5,254.9 655.3,255.7 656.1,254.5 656.9,258.3 657.5,255.9 657.6,256.6 658.4,258.6 659.2,256.7 660,259.4 660.6,258.1 660.8,257.6 661.5,257.2 662.3,257.6 663.1,255.1 663.6,255 663.9,254.9 664.6,255.9 665.4,256.4 666.2,254.9 666.6,255.9 667,255.1 667.8,255 668.5,254.5 669.3,254.4 669.6,254.1 670.1,255.1 670.9,254.7 671.6,254.7 672.4,254.5 672.7,255.9 673.2,254.7 674,251.9 674.8,245.8 675.5,244.8 675.7,243.8 676.3,245.2 677.1,250.6 677.7,251.9 677.9,251 678.7,251.1 679.4,249.1 680.2,248.5 680.6,250"/>
<polyline class="s1" points="396.9,252.3 397.7,253.9 398.4,254 399.2,254.6 400,252.9 400.8,253.3 401.6,252 402.3,253.5 403.1,254.9 403.9,254.4 404.7,254.8 405.5,255 406.2,252.4 407,253.1 407.8,255.6 408.6,252.7 409.3,255 410.1,257 410.9,256 411.7,256.5 412.5,256.8 413.2,257.5 414,254.9 414.8,254.7 415.6,257.6 416.3,255 417.1,255.4 417.9,256.9 418.7,256.5 419.5,256.9 420.2,257.5 421,257 421.8,255.4 422.6,258.7 423.4,256.8 424.1,256.7 424.9,257.5 425.7,257.2 426.5,258.3 427.2,257.8 428,256.8 428.8,256.4 429.6,257.8 430.4,253.7 431.1,256.8 431.9,256.2 432.7,256.9 433.5,257.8 434.3,256.4 435,259.7 435.8,257.6 436.6,258.2 437.4,262.3 438.1,259.6 438.9,263.5 439.7,259.7 440.5,265.1 441.3,266.2 442,267.5 442.8,265.9 443.6,264.6 444.4,266 445.1,267.6 445.9,267.7 446.7,267.7 447.5,264.8 448.3,271.7 449,269.3 449.8,270.6 450.6,272.7 451.4,273.2 452.2,273.5 452.9,270.6 453.7,273.9 454.5,275.9 455.3,273.7 456,274.9 456.8,276.4 457.6,274.8 458.4,278.8 459.2,275.4 459.9,277.1 460.7,281.4 461.5,285.5 462.3,277.4 463,283.7 463.8,277.8 464.6,289.9 465.4,285.9 466.2,291.6 466.9,288.7 467.7,285.2 468.5,289.4 469.3,285 470.1,283.3 470.8,283.7 471.6,281.9 472.4,281 473.2,282.9 473.9,286.3 474.7,289.8 475.5,293.8 476.3,293 477.1,292.3 477.8,287.1 478.6,289.7 479.4,291.4 480.2,283.2 481,288 481.7,288 482.5,286.3 483.3,283.7 484.1,293.9 484.8,290.8 485.6,287.7 486.4,292.3 487.2,296.7 488,297.3 488.7,290.8 489.5,297.3 490.3,292 491.1,290.9 491.8,295.3 492.6,292.2 493.4,295.8 494.2,296.6 495,299 495.7,292.6 496.5,299 497.3,301.1 498.1,304.3 498.9,293.9 499.6,298.1 500.4,301.5 501.2,303.4 502,306 502.7,298.5 503.5,298 504.3,304.6 505.1,296 505.9,298.7 506.6,306.4 507.4,305.6 508.2,305.3 509,303 509.8,303.7 510.5,309 511.3,297.7 512.1,303.2 512.9,301.4 513.6,303.2 514.4,309.7 515.2,307.8 516,305.6 516.8,304 517.5,305.7 518.3,305.9 519.1,302.4 519.9,305.1 520.6,304.2 521.4,309.8 522.2,301.6 523,304.7 523.8,301.8 524.5,298.9 525.3,296.9 526.1,290.6 526.9,296.2 527.7,301.4 528.4,295.3 529.2,298.2 530,295.2 530.8,299.8 531.5,299.8 532.3,298.7 533.1,299.1 533.9,304.4 534.7,301.6 535.4,300.8 536.2,297.1 537,302.7 537.8,302.3 538.5,297.7 539.3,296.5 540.1,291.3 540.9,294.2 541.7,296.3 542.4,291.5 543.2,291.1 544,298.6 544.8,295.7 545.6,301.8 546.3,296.3 547.1,298.3 547.9,296.7 548.7,299.3 549.4,299.5 550.2,299.8 551,296.9 551.8,296.8 552.6,299 553.3,301.6 554.1,292.4 554.9,292 555.7,299.4 556.5,296 557.2,304 558,304.1 558.8,299.3 559.6,293.3 560.3,303.7 561.1,304.7 561.9,297.5 562.7,312.1 563.5,303.6 564.2,304.7 565,307.5 565.8,305.7 566.6,296.9 567.3,306.7 568.1,300.5 568.9,298.8 569.7,299.4 570.5,300.7 571.2,291.2 572,298.3 572.8,307.3 573.6,304.5 574.4,300.7 575.1,301.3 575.9,308.3 576.7,302.9 577.5,301.5 578.2,301.8 579,304 579.8,315.5 580.6,304.8 581.4,312.5 582.1,306.5 582.9,304.3 583.7,312.9 584.5,317.5 585.3,310.5 586,314.9 586.8,315.5 587.6,316.1 588.4,303.5 589.1,309.5 589.9,311.8 590.7,307.8 591.5,309.9 592.3,304.2 593,305.3 593.8,306.7 594.6,299.5 595.4,303.2 596.1,297.4 596.9,294.7 597.7,300.2 598.5,300.7 599.3,296.1 600,290.8 600.8,291.4 601.6,288.9 602.4,288.4 603.2,286.6 603.9,285.2 604.7,289.9 605.5,288.9 606.3,287 607,290 607.8,287.9 608.6,287.6 609.4,290.3 610.2,291.7 610.9,291.7 611.7,283.1 612.5,285.3 613.3,289.2 614.1,285.4 614.8,275 615.6,274.6 616.4,278 617.2,275.5 617.9,283.5 618.7,280.5 619.5,279 620.3,285.2 621.1,280.8 621.8,274.6 622.6,271.9 623.4,275 624.2,272.2 624.9,268.6 625.7,272.8 626.5,274.7 627.3,271.7 628.1,272.2 628.8,268 629.6,269.6 630.4,270.8 631.2,264.5 632,269.6 632.7,268 633.5,268 634.3,267.8 635.1,268.4 635.8,266.5 636.6,266.2 637.4,267.1 638.2,264.4 639,264 639.7,263.6 640.5,262.6 641.3,263 642.1,259.9 642.8,259 643.6,262.6 644.4,259.8 645.2,260.4 646,261.9 646.7,258.9 647.5,259.6 648.3,258.8 649.1,258.6 649.9,256.3 650.6,255.8 651.4,256.3 652.2,255.3 653,255.8 653.7,255.6 654.5,256.8 655.3,256.2 656.1,256.9 656.9,255.2 657.6,254 658.4,253.8 659.2,252.5 660,251.3 660.8,255.9 661.5,253.8 662.3,254.6 663.1,254.5 663.9,255.3 664.6,253.5 665.4,253.7 666.2,254.3 667,254.4 667.8,255.3 668.5,257.5 669.3,254.1 670.1,255.6 670.9,256.1 671.6,254.5 672.4,255.5 673.2,257.3 674,254.4 674.8,257.8 675.5,256.6 676.3,256.2 677.1,254.9 677.9,254.6 678.7,255.4 679.4,256.1 680.2,255.4"/>
<polyline class="s1" points="396.9,257.8 397.7,259.2 398.4,261.1 399.2,263.9 400,261.8 400.8,261.4 401.6,261.9 402.3,261.4 403.1,262.5 403.9,262.4 404.7,263.2 405.5,260.9 406.2,262.6 407,263.7 407.8,264.8 408.6,263.6 409.3,262.1 410.1,263.5 410.9,265.4 411.7,263.5 412.5,263.8 413.2,264.5 414,264.9 414.8,264.9 415.6,266.2 416.3,266.9 417.1,269.5 417.9,267.7 418.7,269.6 419.5,268 420.2,272.7 421,270 421.8,270 422.6,271.7 423.4,270.9 424.1,270.4 424.9,270.4 425.7,271.8 426.5,271.7 427.2,270.9 428,271.2 428.8,273.2 429.6,273.7 430.4,274.1 431.1,273.9 431.9,277.4 432.7,278.9 433.5,278.2 434.3,281.1 435,281.7 435.8,282.1 436.6,282.8 437.4,286.7 438.1,285 438.9,290.6 439.7,287.6 440.5,292.3 441.3,293 442,290.8 442.8,293.9 443.6,295.5 444.4,295.6 445.1,294.8 445.9,297 446.7,298.2 447.5,297 448.3,301.9 449,302.5 449.8,303.7 450.6,300.3 451.4,300.7 452.2,300 452.9,303.8 453.7,305.7 454.5,305.5 455.3,311.5 456,311 456.8,313.7 457.6,320 458.4,320.3 459.2,322.1 459.9,317.6 460.7,317.4 461.5,326.6 462.3,327.7 463,336.2 463.8,327.4 464.6,327.5 465.4,331.3 466.2,325.1 466.9,335.1 467.7,331.3 468.5,330.9 469.3,336.9 470.1,329.6 470.8,328.8 471.6,337.1 472.4,335.8 473.2,327.7 473.9,330.5 474.7,335.3 475.5,333.9 476.3,336.4 477.1,339 477.8,336.5 478.6,338.3 479.4,332.7 480.2,333.8 481,336.7 481.7,335.8 482.5,335.1 483.3,336.6 484.1,341.9 484.8,332.2 485.6,333.8 486.4,327.5 487.2,333.4 488,332.2 488.7,333.3 489.5,329 490.3,336.6 491.1,340.4 491.8,339.6 492.6,342.9 493.4,340.8 494.2,342 495,342.1 495.7,337.4 496.5,347.1 497.3,345.9 498.1,346.4 498.9,342.7 499.6,350 500.4,349.7 501.2,349.4 502,348.8 502.7,351.3 503.5,352.3 504.3,353 505.1,347.8 505.9,345.2 506.6,351 507.4,353.3 508.2,353.9 509,360.2 509.8,358.4 510.5,358.6 511.3,356.6 512.1,357.4 512.9,361.1 513.6,351.4 514.4,348.3 515.2,354.6 516,351.4 516.8,351.9 517.5,350.5 518.3,359.8 519.1,348.6 519.9,355.9 520.6,348.2 521.4,351.2 522.2,351.9 523,350.9 523.8,347.1 524.5,354.4 525.3,353.3 526.1,354 526.9,358 527.7,345.5 528.4,348.2 529.2,350.4 530,346 530.8,354.3 531.5,352.7 532.3,347.1 533.1,350.4 533.9,362.2 534.7,361.8 535.4,357.1 536.2,349.3 537,355.8 537.8,356.3 538.5,355.2 539.3,362.3 540.1,358.9 540.9,356.2 541.7,356.1 542.4,354.8 543.2,357.4 544,352.9 544.8,357.1 545.6,352.2 546.3,351 547.1,363.9 547.9,370.4 548.7,364 549.4,360.3 550.2,356.6 551,355.4 551.8,361.9 552.6,362.2 553.3,355.1 554.1,364.3 554.9,356.3 555.7,361.2 556.5,357.5 557.2,358.1 558,358.6 558.8,359.3 559.6,366.7 560.3,361.7 561.1,361.6 561.9,358.7 562.7,353.8 563.5,358.7 564.2,360.5 565,360.9 565.8,359.5 566.6,355.6 567.3,361.6 568.1,354.4 568.9,357.6 569.7,358.9 570.5,362.1 571.2,355.2 572,352.7 572.8,361.3 573.6,350.1 574.4,348.4 575.1,352.9 575.9,351.4 576.7,343.9 577.5,346.8 578.2,354.6 579,351.3 579.8,351.2 580.6,349.9 581.4,356.2 582.1,344.3 582.9,349 583.7,345.6 584.5,346.2 585.3,342.2 586,346.6 586.8,348.9 587.6,344.3 588.4,341.2 589.1,347.6 589.9,341.3 590.7,345.5 591.5,348.4 592.3,339.9 593,346.6 593.8,336.9 594.6,339.4 595.4,333.3 596.1,338 596.9,335.1 597.7,327 598.5,329.1 599.3,328.2 600,328.3 600.8,323.3 601.6,328.7 602.4,326.1 603.2,320.9 603.9,321.9 604.7,320.1 605.5,317 606.3,316.8 607,316.6 607.8,309.1 608.6,310.1 609.4,307.7 610.2,310 610.9,309.7 611.7,311.6 612.5,307.6 613.3,312.8 614.1,307.9 614.8,303 615.6,298.8 616.4,298.5 617.2,301.5 617.9,296.3 618.7,298.9 619.5,294.7 620.3,297.4 621.1,294.9 621.8,291.1 622.6,293.4 623.4,289.1 624.2,292.9 624.9,292.9 625.7,287.8 626.5,285.4 627.3,288.6 628.1,285 628.8,286.2 629.6,282.1 630.4,279.3 631.2,281.2 632,282 632.7,282.9 633.5,278.5 634.3,276.4 635.1,275.7 635.8,275.6 636.6,277.8 637.4,272.8 638.2,275.6 639,275.7 639.7,273.9 640.5,277.1 641.3,273.4 642.1,272.4 642.8,270.1 643.6,267.2 644.4,266.6 645.2,267.9 646,265.6 646.7,264.8 647.5,264.8 648.3,266.4 649.1,267 649.9,264.7 650.6,265 651.4,265.2 652.2,266.4 653,261.9 653.7,265.6 654.5,263.2 655.3,260.2 656.1,262.3 656.9,261.4 657.6,262.5 658.4,259.5 659.2,262.2 660,260.5 660.8,260.5 661.5,261.7 662.3,259.3 663.1,261.4 663.9,260.3 664.6,259.6 665.4,260.3 666.2,259.6 667,259.2 667.8,260.5 668.5,260.6 669.3,260.6 670.1,260.7 670.9,259.9 671.6,261.4 672.4,260.9 673.2,261.3 674,261.9 674.8,259.8 675.5,261.7 676.3,260.5 677.1,258.6 677.9,261.1 678.7,259.6 679.4,261 680.2,259.4"/>
<polyline class="s2" points="396.9,248.5 397.7,250 398.4,251.2 399.2,251.7 400,247.9 400.8,250 401.6,247.6 402.3,252.8 403.1,251.8 403.9,251.2 404.7,252 405.5,251 406.2,251.2 407,252.2 407.8,254.4 408.6,253.2 409.3,249.8 410.1,251.4 410.9,250.7 411.7,253.5 412.5,252.8 413.2,253.3 414,251 414.8,250.8 415.6,249.7 416.3,247.8 417.1,251.6 417.9,249.8 418.7,253 419.5,249.4 420.2,251.4 421,251 421.8,251 422.6,249.3 423.4,251.8 424.1,252.2 424.9,252.6 425.7,249.9 426.5,251.2 427.2,250.8 428,250.4 428.8,249.6 429.6,251.9 430.4,249.7 431.1,247.8 431.9,252.6 432.7,247.7 433.5,246 434.3,250.2 435,247.7 435.8,250.9 436.6,247.4 437.4,248.8 438.1,247.9 438.9,250.9 439.7,250.9 440.5,250.1 441.3,250.4 442,249.7 442.8,248.2 443.6,249.7 444.4,246.9 445.1,245 445.9,251 446.7,245.7 447.5,249 448.3,252 449,255.4 449.8,255.9 450.6,256.9 451.4,253.7 452.2,256 452.9,247 453.7,251.1 454.5,246.5 455.3,246.4 456,255.5 456.8,250.1 457.6,247.2 458.4,257.7 459.2,257.2 459.9,263 460.7,264 461.5,267.1 462.3,270 463,265 463.8,263.3 464.6,266.3 465.4,259.3 466.2,260.9 466.9,261.8 467.7,266.9 468.5,254.2 469.3,255.6 470.1,270.4 470.8,266.4 471.6,264.5 472.4,259.1 473.2,257.9 473.9,264.4 474.7,261.8 475.5,260 476.3,269.2 477.1,261.9 477.8,266.8 478.6,265.8 479.4,268.1 480.2,273.9 481,273.3 481.7,268 482.5,266 483.3,265.5 484.1,258.1 484.8,264.5 485.6,268.7 486.4,265.4 487.2,265.1 488,265.3 488.7,260 489.5,263.2 490.3,261.8 491.1,264.6 491.8,269.3 492.6,266 493.4,274.3 494.2,275 495,282.4 495.7,277.7 496.5,277.9 497.3,272.4 498.1,263.9 498.9,260.9 499.6,265.8 500.4,271.2 501.2,268.7 502,272.5 502.7,276.6 503.5,274 504.3,274.1 505.1,274.9 505.9,266.2 506.6,275.2 507.4,276.3 508.2,272.5 509,280 509.8,283.5 510.5,284 511.3,280.4 512.1,283.2 512.9,287 513.6,293.9 514.4,296.7 515.2,283.8 516,286.3 516.8,277.4 517.5,283.2 518.3,279.9 519.1,278.5 519.9,271.6 520.6,286.1 521.4,270.9 522.2,280.9 523,275.5 523.8,272.3 524.5,277.2 525.3,271.3 526.1,265.9 526.9,266.6 527.7,269 528.4,265.5 529.2,266.2 530,273.5 530.8,261.7 531.5,267.1 532.3,277.5 533.1,270.6 533.9,258.8 534.7,259.4 535.4,265.9 536.2,275.4 537,270.3 537.8,266.1 538.5,270.6 539.3,275.2 540.1,277.5 540.9,270.2 541.7,273.3 542.4,269.7 543.2,268.3 544,263.1 544.8,269 545.6,268.2 546.3,277.1 547.1,265.6 547.9,269.5 548.7,277.8 549.4,292.1 550.2,288.2 551,286.4 551.8,275 552.6,275.9 553.3,268.5 554.1,262.9 554.9,258 555.7,268.5 556.5,268.1 557.2,271.1 558,269 558.8,271.1 559.6,271.7 560.3,278.9 561.1,276 561.9,282.5 562.7,273.2 563.5,287 564.2,275.8 565,277.2 565.8,287.9 566.6,276.9 567.3,277.2 568.1,285.6 568.9,275 569.7,276.3 570.5,272.5 571.2,276.2 572,272.1 572.8,270.4 573.6,273.7 574.4,276 575.1,273.6 575.9,275.7 576.7,268.6 577.5,279.5 578.2,264.2 579,272.1 579.8,272.2 580.6,272.3 581.4,283.2 582.1,269.6 582.9,284.6 583.7,278 584.5,279.9 585.3,277.9 586,286.5 586.8,296.1 587.6,291.3 588.4,303.2 589.1,293.7 589.9,293.6 590.7,283.7 591.5,291 592.3,290.4 593,289.4 593.8,286.9 594.6,283.1 595.4,275.9 596.1,282.7 596.9,277.6 597.7,284 598.5,279.7 599.3,278.9 600,284.5 600.8,280.3 601.6,275.8 602.4,271.4 603.2,269.5 603.9,273.4 604.7,277.1 605.5,279.6 606.3,268.8 607,265.3 607.8,268.6 608.6,263.2 609.4,271.4 610.2,271.7 610.9,264.9 611.7,275.3 612.5,269.4 613.3,269.2 614.1,267.9 614.8,259.6 615.6,266.9 616.4,264.9 617.2,269.8 617.9,266 618.7,265.2 619.5,266.5 620.3,266.9 621.1,265.5 621.8,268.2 622.6,271.4 623.4,264.1 624.2,262.1 624.9,265.3 625.7,263.3 626.5,256.1 627.3,258.4 628.1,258.6 628.8,259.8 629.6,261.1 630.4,262.5 631.2,259.6 632,261.1 632.7,261.4 633.5,260.3 634.3,260.2 635.1,257.6 635.8,260.8 636.6,253.6 637.4,259.2 638.2,257.2 639,254 639.7,256.9 640.5,256 641.3,255 642.1,258.3 642.8,255.5 643.6,255.9 644.4,254.6 645.2,253.2 646,252.8 646.7,251.4 647.5,251.6 648.3,252.2 649.1,253.8 649.9,252 650.6,254.4 651.4,252.7 652.2,250.2 653,250.8 653.7,253.4 654.5,251.7 655.3,248.9 656.1,248.8 656.9,247.8 657.6,251.6 658.4,250.8 659.2,249.2 660,250.2 660.8,249.1 661.5,249.3 662.3,249.1 663.1,249.8 663.9,248.8 664.6,248.6 665.4,249.7 666.2,251.9 667,248.4 667.8,249.7 668.5,249.1 669.3,249.3 670.1,251.9 670.9,248.9 671.6,250.7 672.4,251.3 673.2,247.3 674,249.1 674.8,248.2 675.5,247.7 676.3,247.3 677.1,252.5 677.9,251.1 678.7,249 679.4,250.8 680.2,252.9"/>
<polyline class="s2" points="396.9,259.4 397.7,263.1 398.4,261.7 399.2,262.9 400,263.8 400.8,264.6 401.6,268 402.3,266.6 403.1,265.2 403.9,268.4 404.7,267.4 405.5,268.1 406.2,266.7 407,268.7 407.8,265.2 408.6,268.4 409.3,270.6 410.1,266.4 410.9,267.9 411.7,268.6 412.5,268.5 413.2,269.7 414,269.6 414.8,268.6 415.6,268.8 416.3,269.3 417.1,270.7 417.9,271.8 418.7,271.5 419.5,269.7 420.2,269.6 421,272.7 421.8,273.7 422.6,272 423.4,273.4 424.1,273.9 424.9,277.3 425.7,276.4 426.5,276.9 427.2,276 428,279.2 428.8,275.4 429.6,277.9 430.4,278.9 431.1,282.5 431.9,281.4 432.7,279.8 433.5,285.6 434.3,284 435,284.6 435.8,288.3 436.6,287.1 437.4,291.2 438.1,289.5 438.9,292.3 439.7,294.3 440.5,291.7 441.3,295.5 442,295.5 442.8,302.3 443.6,302.1 444.4,299.8 445.1,301 445.9,305.2 446.7,305.5 447.5,312.5 448.3,311.1 449,315.9 449.8,313 450.6,316.4 451.4,318.2 452.2,317.9 452.9,314.4 453.7,324.1 454.5,324.4 455.3,320.6 456,326.5 456.8,320.5 457.6,326.6 458.4,328.2 459.2,328.8 459.9,326.1 460.7,333.4 461.5,337.2 462.3,340.7 463,349.5 463.8,347.6 464.6,338.5 465.4,342.8 466.2,345.7 466.9,346.5 467.7,352.2 468.5,348.4 469.3,353.4 470.1,347.5 470.8,352.7 471.6,351.6 472.4,350.2 473.2,355.2 473.9,352.5 474.7,355 475.5,357.2 476.3,355 477.1,369.1 477.8,370.8 478.6,361.4 479.4,359.3 480.2,353.9 481,358.9 481.7,358.9 482.5,367.7 483.3,362.6 484.1,365.4 484.8,375 485.6,375.6 486.4,372.6 487.2,370.5 488,380.6 488.7,370 489.5,368.5 490.3,369.6 491.1,367 491.8,365.6 492.6,371.7 493.4,366 494.2,369.3 495,373.3 495.7,370.2 496.5,366.5 497.3,380.4 498.1,381.3 498.9,380.7 499.6,364.4 500.4,374.2 501.2,374 502,377.7 502.7,378.8 503.5,384.1 504.3,375.8 505.1,377.3 505.9,389.1 506.6,386.6 507.4,385.8 508.2,382.5 509,381.3 509.8,378 510.5,378 511.3,380.4 512.1,379.7 512.9,390.5 513.6,387.5 514.4,380.4 515.2,385.4 516,388.6 516.8,399.1 517.5,399.9 518.3,389 519.1,390.1 519.9,391.5 520.6,390.5 521.4,395.2 522.2,386.1 523,384.2 523.8,383 524.5,391.1 525.3,392.4 526.1,395.3 526.9,383.6 527.7,379.5 528.4,387.4 529.2,381.2 530,380.4 530.8,382.6 531.5,390 532.3,382.9 533.1,379.4 533.9,388.9 534.7,386.4 535.4,391.8 536.2,375.9 537,378.9 537.8,380.9 538.5,382.5 539.3,384.1 540.1,381.9 540.9,384 541.7,385.7 542.4,386.9 543.2,388 544,383.4 544.8,397.8 545.6,391.1 546.3,394.9 547.1,396.3 547.9,400.1 548.7,387.8 549.4,395.1 550.2,394.6 551,389.4 551.8,395.8 552.6,391 553.3,392.3 554.1,389.2 554.9,397.3 555.7,407.6 556.5,395.8 557.2,398.2 558,396.8 558.8,396.3 559.6,389.1 560.3,395.1 561.1,387.7 561.9,382.7 562.7,388.5 563.5,379.6 564.2,393 565,390.2 565.8,394 566.6,394.9 567.3,396.7 568.1,393.1 568.9,389.7 569.7,391.7 570.5,383.2 571.2,379 572,390.6 572.8,378.6 573.6,380.2 574.4,378.9 575.1,369.2 575.9,372 576.7,374.3 577.5,374.3 578.2,384.9 579,372.9 579.8,380 580.6,375.9 581.4,375.7 582.1,371.6 582.9,366.8 583.7,370.8 584.5,368.4 585.3,373.1 586,368 586.8,364.2 587.6,371.1 588.4,353.1 589.1,362.5 589.9,363.4 590.7,349.7 591.5,347.7 592.3,360.2 593,359.8 593.8,346.9 594.6,354.9 595.4,363.2 596.1,356.7 596.9,344.8 597.7,349.5 598.5,347.1 599.3,342.7 600,342.8 600.8,344.9 601.6,348.5 602.4,338.4 603.2,344.5 603.9,339.5 604.7,331.1 605.5,335.5 606.3,336.2 607,334.4 607.8,329.9 608.6,328 609.4,336.3 610.2,330.1 610.9,323.5 611.7,325.9 612.5,329.7 613.3,327.5 614.1,330.7 614.8,324.9 615.6,315.8 616.4,320.5 617.2,322.1 617.9,319.9 618.7,317 619.5,315.8 620.3,315.4 621.1,315.4 621.8,309.6 622.6,305.2 623.4,309.8 624.2,308.2 624.9,301.7 625.7,307.1 626.5,302 627.3,298.3 628.1,293.9 628.8,292.7 629.6,293 630.4,289.9 631.2,293.9 632,295 632.7,294.2 633.5,286.8 634.3,291 635.1,285.2 635.8,283.7 636.6,282 637.4,281.7 638.2,279.9 639,276.5 639.7,276.3 640.5,276.6 641.3,271.8 642.1,275.1 642.8,271.1 643.6,273 644.4,274.1 645.2,272.3 646,270.5 646.7,273.3 647.5,271.8 648.3,271.1 649.1,268.6 649.9,267.3 650.6,266.8 651.4,266.8 652.2,265.5 653,262.8 653.7,262.5 654.5,263.8 655.3,266.4 656.1,264.5 656.9,265.6 657.6,266.1 658.4,264 659.2,265.1 660,267.4 660.8,267.3 661.5,263.8 662.3,265 663.1,263.9 663.9,265.1 664.6,266.1 665.4,264 666.2,261.8 667,263 667.8,264.6 668.5,263.1 669.3,263.2 670.1,262.3 670.9,261.3 671.6,260.2 672.4,263 673.2,264.4 674,264 674.8,264 675.5,264.6 676.3,263.2 677.1,262 677.9,262.8 678.7,260.1 679.4,261.6 680.2,263"/>
<line x1="396.5" y1="243.5" x2="396.5" y2="414.4" class="ax"/>
<line x1="392.5" y1="243.5" x2="396.5" y2="243.5" class="ax"/>
<text x="384.4" y="246.9" class="tl">5</text>
<line x1="392.5" y1="259" x2="396.5" y2="259" class="ax"/>
<text x="384.4" y="262.4" class="tl">0</text>
<line x1="392.5" y1="274.6" x2="396.5" y2="274.6" class="ax"/>
<text x="384.4" y="278" class="tl">-5</text>
<line x1="392.5" y1="290.1" x2="396.5" y2="290.1" class="ax"/>
<text x="384.4" y="293.5" class="tl">-10</text>
<line x1="392.5" y1="305.6" x2="396.5" y2="305.6" class="ax"/>
<text x="384.4" y="309" class="tl">-15</text>
<line x1="392.5" y1="321.2" x2="396.5" y2="321.2" class="ax"/>
<text x="384.4" y="324.6" class="tl">-20</text>
<line x1="392.5" y1="336.7" x2="396.5" y2="336.7" class="ax"/>
<text x="384.4" y="340.1" class="tl">-25</text>
<line x1="392.5" y1="352.3" x2="396.5" y2="352.3" class="ax"/>
<text x="384.4" y="355.7" class="tl">-30</text>
<line x1="392.5" y1="367.8" x2="396.5" y2="367.8" class="ax"/>
<text x="384.4" y="371.2" class="tl">-35</text>
<line x1="392.5" y1="383.3" x2="396.5" y2="383.3" class="ax"/>
<text x="384.4" y="386.7" class="tl">-40</text>
<line x1="392.5" y1="398.9" x2="396.5" y2="398.9" class="ax"/>
<text x="384.4" y="402.3" class="tl">-45</text>
<line x1="392.5" y1="414.4" x2="396.5" y2="414.4" class="ax"/>
<text x="384.4" y="417.8" class="tl">-50</text>
<line x1="396.5" y1="414.4" x2="680.6" y2="414.4" class="ax"/>
<path d="M396.5 414.4v4.5M400.5 414.4v4.5M404.5 414.4v4.5M408.5 414.4v4.5M412.5 414.4v4.5M415.5 414.4v4.5M419.5 414.4v4.5M423.5 414.4v4.5M427.5 414.4v4.5M431.5 414.4v4.5M435.5 414.4v4.5M439.5 414.4v4.5M443.5 414.4v4.5M447.5 414.4v4.5M450.5 414.4v4.5M454.5 414.4v4.5M458.5 414.4v4.5M462.5 414.4v4.5M466.5 414.4v4.5M470.5 414.4v4.5M474.5 414.4v4.5M478.5 414.4v4.5M482.5 414.4v4.5M486.5 414.4v4.5M489.5 414.4v4.5M493.5 414.4v4.5M497.5 414.4v4.5M501.5 414.4v4.5M505.5 414.4v4.5M509.5 414.4v4.5M513.5 414.4v4.5M517.5 414.4v4.5M521.5 414.4v4.5M524.5 414.4v4.5M528.5 414.4v4.5M532.5 414.4v4.5M536.5 414.4v4.5M540.5 414.4v4.5M544.5 414.4v4.5M548.5 414.4v4.5M552.5 414.4v4.5M556.5 414.4v4.5M559.5 414.4v4.5M563.5 414.4v4.5M567.5 414.4v4.5M571.5 414.4v4.5M575.5 414.4v4.5M579.5 414.4v4.5M583.5 414.4v4.5M587.5 414.4v4.5M591.5 414.4v4.5M594.5 414.4v4.5M598.5 414.4v4.5M602.5 414.4v4.5M606.5 414.4v4.5M610.5 414.4v4.5M614.5 414.4v4.5M618.5 414.4v4.5M622.5 414.4v4.5M626.5 414.4v4.5M630.5 414.4v4.5M633.5 414.4v4.5M637.5 414.4v4.5M641.5 414.4v4.5M645.5 414.4v4.5M649.5 414.4v4.5M653.5 414.4v4.5M657.5 414.4v4.5M661.5 414.4v4.5M665.5 414.4v4.5M668.5 414.4v4.5M672.5 414.4v4.5M676.5 414.4v4.5M680.5 414.4v4.5" class="tk"/>
<text transform="translate(401.2,421.9) rotate(-90)" class="ml">1 Aug</text>
<text transform="translate(425.3,421.9) rotate(-90)" class="ml">1 Sep</text>
<text transform="translate(448.7,421.9) rotate(-90)" class="ml">1 Oct</text>
<text transform="translate(472.8,421.9) rotate(-90)" class="ml">1 Nov</text>
<text transform="translate(496.2,421.9) rotate(-90)" class="ml">1 Dec</text>
<text transform="translate(520.3,421.9) rotate(-90)" class="ml">1 Jan</text>
<text transform="translate(544.4,421.9) rotate(-90)" class="ml">1 Feb</text>
<text transform="translate(566.2,421.9) rotate(-90)" class="ml">1 Mar</text>
<text transform="translate(590.3,421.9) rotate(-90)" class="ml">1 Apr</text>
<text transform="translate(613.7,421.9) rotate(-90)" class="ml">1 May</text>
<text transform="translate(637.8,421.9) rotate(-90)" class="ml">1 Jun</text>
<text transform="translate(661.2,421.9) rotate(-90)" class="ml">1 Jul</text>
<text transform="translate(359.5,323.9) rotate(-90)" class="yt">Air tempearture (°C)</text>
<line x1="438.7" y1="464.1" x2="465.8" y2="464.1" class="rl"/>
<text x="468.6" y="468.5" class="lg" textLength="130.8" lengthAdjust="spacingAndGlyphs">Calm Bay 1930-1931</text>
<line x1="84.5" y1="489.3" x2="120" y2="489.3" class="bl"/>
<text x="123.8" y="493.3" class="lg" textLength="154.8" lengthAdjust="spacingAndGlyphs">Ostrov Heisa 1981-2010</text>
<line x1="330.3" y1="489.2" x2="366" y2="489.2" class="b1"/>
<text x="370.2" y="493.3" class="lg" textLength="33.6" lengthAdjust="spacingAndGlyphs">±1SD</text>
<line x1="456.4" y1="489.2" x2="493.2" y2="489.2" class="b2"/>
<text x="496.4" y="493.3" class="lg" textLength="32.2" lengthAdjust="spacingAndGlyphs">±2SD</text>
</svg></body></html>
